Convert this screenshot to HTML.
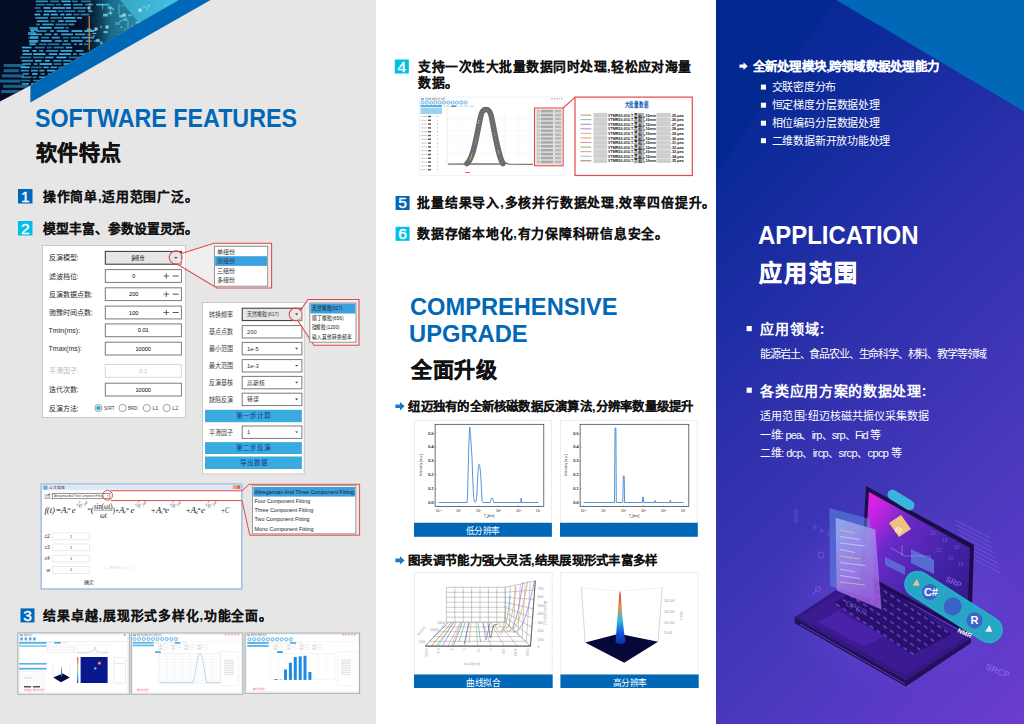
<!DOCTYPE html>
<html lang="zh-CN"><head><meta charset="utf-8">
<style>
html,body{margin:0;padding:0;width:1024px;height:724px;overflow:hidden;background:#fff}
body{font-family:"Liberation Sans",sans-serif}
svg{position:absolute;left:0;top:0;display:block}
svg text{white-space:pre}
</style></head><body>
<svg width="1024" height="724" viewBox="0 0 1024 724" font-family='"Liberation Sans",sans-serif'>
<defs>
<linearGradient id="rg" x1="716" y1="0" x2="1232" y2="516" gradientUnits="userSpaceOnUse">
 <stop offset="0" stop-color="#05288f"/><stop offset="0.19" stop-color="#0c2a9a"/><stop offset="0.45" stop-color="#2e30ac"/><stop offset="0.705" stop-color="#4838bc"/><stop offset="1" stop-color="#6c3cd0"/>
</linearGradient>
<linearGradient id="ph" x1="0" y1="0" x2="1" y2="0">
 <stop offset="0" stop-color="#04132a"/><stop offset="0.4" stop-color="#0a2c4c"/><stop offset="0.75" stop-color="#1b6f96"/><stop offset="1" stop-color="#3aa6c8"/>
</linearGradient>
<filter id="bl1"><feGaussianBlur stdDeviation="0.6"/></filter>
<filter id="bl2"><feGaussianBlur stdDeviation="1.2"/></filter>
</defs>
<rect x="0.00" y="0.00" width="376.00" height="724.00" fill="#e6e6e6"/>
<rect x="376.00" y="0.00" width="340.00" height="724.00" fill="#ffffff"/>
<rect x="716.00" y="0.00" width="308.00" height="724.00" fill="url(#rg)"/>
<polygon points="716,0 835,0 716,174" fill="#03288f"/>
<clipPath id="phc"><polygon points="0,0 179,0 30.4,85.5 0,101.5"/></clipPath>
<g clip-path="url(#phc)">
<rect x="0.00" y="0.00" width="180.00" height="102.00" fill="#050d24"/>
<linearGradient id="ph2" x1="0" y1="0" x2="1" y2="0"><stop offset="0" stop-color="#0a2a40" stop-opacity="0"/><stop offset="0.3" stop-color="#1a6a88"/><stop offset="1" stop-color="#40b8d8"/></linearGradient>
<polygon points="80,0 180,0 110,40 80,60" fill="url(#ph2)"/>
<polygon points="120,0 180,0 140,24" fill="#48c8e8" opacity="0.6"/>
<g filter="url(#bl1)">
<rect x="35.7" y="0.5" width="12.2" height="1.7" fill="#3cc0f0" opacity="0.76"/>
<rect x="50.2" y="0.5" width="8.9" height="1.7" fill="#3cc0f0" opacity="0.63"/>
<rect x="61.3" y="0.5" width="9.3" height="1.7" fill="#3cc0f0" opacity="0.91"/>
<rect x="71.9" y="0.5" width="6.0" height="1.7" fill="#3cc0f0" opacity="0.59"/>
<rect x="80.9" y="0.5" width="9.9" height="1.7" fill="#3cc0f0" opacity="0.57"/>
<rect x="36.0" y="3.8" width="9.2" height="1.7" fill="#3cc0f0" opacity="0.62"/>
<rect x="46.2" y="3.8" width="8.3" height="1.7" fill="#3cc0f0" opacity="0.58"/>
<rect x="55.9" y="3.8" width="5.4" height="1.7" fill="#3cc0f0" opacity="0.56"/>
<rect x="63.5" y="3.8" width="7.4" height="1.7" fill="#3cc0f0" opacity="0.93"/>
<rect x="73.2" y="3.8" width="9.4" height="1.7" fill="#3cc0f0" opacity="0.77"/>
<rect x="85.3" y="3.8" width="7.6" height="1.7" fill="#3cc0f0" opacity="0.68"/>
<rect x="96.3" y="3.8" width="13.0" height="1.7" fill="#3cc0f0" opacity="0.93"/>
<rect x="34.7" y="7.1" width="5.9" height="1.7" fill="#3cc0f0" opacity="0.58"/>
<rect x="43.5" y="7.1" width="7.0" height="1.7" fill="#3cc0f0" opacity="0.93"/>
<rect x="52.5" y="7.1" width="12.6" height="1.7" fill="#3cc0f0" opacity="0.93"/>
<rect x="66.0" y="7.1" width="5.1" height="1.7" fill="#3cc0f0" opacity="0.96"/>
<rect x="73.3" y="7.1" width="12.8" height="1.7" fill="#3cc0f0" opacity="0.73"/>
<rect x="36.3" y="10.4" width="5.7" height="1.7" fill="#3cc0f0" opacity="0.59"/>
<rect x="43.9" y="10.4" width="12.6" height="1.7" fill="#3cc0f0" opacity="0.89"/>
<rect x="57.8" y="10.4" width="5.5" height="1.7" fill="#3cc0f0" opacity="0.60"/>
<rect x="64.4" y="10.4" width="11.0" height="1.7" fill="#3cc0f0" opacity="0.63"/>
<rect x="77.8" y="10.4" width="7.5" height="1.7" fill="#3cc0f0" opacity="0.64"/>
<rect x="88.1" y="10.4" width="4.3" height="1.7" fill="#3cc0f0" opacity="0.84"/>
<rect x="34.6" y="13.7" width="5.7" height="1.7" fill="#3cc0f0" opacity="0.99"/>
<rect x="43.3" y="13.7" width="6.0" height="1.7" fill="#3cc0f0" opacity="0.95"/>
<rect x="50.9" y="13.7" width="6.9" height="1.7" fill="#3cc0f0" opacity="0.93"/>
<rect x="60.5" y="13.7" width="4.0" height="1.7" fill="#3cc0f0" opacity="1.00"/>
<rect x="66.0" y="13.7" width="5.6" height="1.7" fill="#3cc0f0" opacity="0.90"/>
<rect x="73.4" y="13.7" width="6.0" height="1.7" fill="#3cc0f0" opacity="0.58"/>
<rect x="80.6" y="13.7" width="8.8" height="1.7" fill="#3cc0f0" opacity="0.66"/>
<rect x="35.4" y="17.0" width="12.6" height="1.7" fill="#3cc0f0" opacity="0.77"/>
<rect x="50.4" y="17.0" width="11.7" height="1.7" fill="#3cc0f0" opacity="0.63"/>
<rect x="63.4" y="17.0" width="12.1" height="1.7" fill="#3cc0f0" opacity="0.92"/>
<rect x="77.1" y="17.0" width="4.9" height="1.7" fill="#3cc0f0" opacity="0.88"/>
<rect x="36.9" y="20.3" width="11.8" height="1.7" fill="#3cc0f0" opacity="0.82"/>
<rect x="50.7" y="20.3" width="4.0" height="1.7" fill="#3cc0f0" opacity="0.57"/>
<rect x="58.2" y="20.3" width="5.4" height="1.7" fill="#3cc0f0" opacity="0.87"/>
<rect x="65.2" y="20.3" width="11.2" height="1.7" fill="#3cc0f0" opacity="0.82"/>
<rect x="36.2" y="23.6" width="3.7" height="1.7" fill="#3cc0f0" opacity="0.65"/>
<rect x="42.2" y="23.6" width="11.5" height="1.7" fill="#3cc0f0" opacity="0.83"/>
<rect x="55.5" y="23.6" width="12.2" height="1.7" fill="#3cc0f0" opacity="0.64"/>
<rect x="68.7" y="23.6" width="5.7" height="1.7" fill="#3cc0f0" opacity="0.75"/>
<rect x="29.1" y="26.9" width="8.7" height="1.7" fill="#3cc0f0" opacity="0.61"/>
<rect x="39.7" y="26.9" width="11.9" height="1.7" fill="#3cc0f0" opacity="0.99"/>
<rect x="54.3" y="26.9" width="9.9" height="1.7" fill="#3cc0f0" opacity="0.81"/>
<rect x="65.5" y="26.9" width="3.4" height="1.7" fill="#3cc0f0" opacity="0.56"/>
<rect x="30.9" y="30.2" width="3.2" height="1.7" fill="#3cc0f0" opacity="0.84"/>
<rect x="36.3" y="30.2" width="10.3" height="1.7" fill="#3cc0f0" opacity="0.69"/>
<rect x="50.1" y="30.2" width="3.8" height="1.7" fill="#3cc0f0" opacity="0.80"/>
<rect x="56.7" y="30.2" width="12.0" height="1.7" fill="#3cc0f0" opacity="0.88"/>
<rect x="71.5" y="30.2" width="10.9" height="1.7" fill="#3cc0f0" opacity="0.96"/>
<rect x="84.3" y="30.2" width="9.9" height="1.7" fill="#3cc0f0" opacity="0.96"/>
<rect x="30.4" y="33.5" width="11.6" height="1.7" fill="#3cc0f0" opacity="0.81"/>
<rect x="44.6" y="33.5" width="6.8" height="1.7" fill="#3cc0f0" opacity="0.81"/>
<rect x="53.9" y="33.5" width="3.8" height="1.7" fill="#3cc0f0" opacity="0.84"/>
<rect x="61.2" y="33.5" width="11.8" height="1.7" fill="#3cc0f0" opacity="0.88"/>
<rect x="75.0" y="33.5" width="10.4" height="1.7" fill="#3cc0f0" opacity="0.81"/>
<rect x="28.3" y="36.8" width="10.5" height="1.7" fill="#3cc0f0" opacity="0.56"/>
<rect x="41.3" y="36.8" width="7.8" height="1.7" fill="#3cc0f0" opacity="0.65"/>
<rect x="51.8" y="36.8" width="8.0" height="1.7" fill="#3cc0f0" opacity="0.83"/>
<rect x="63.1" y="36.8" width="5.6" height="1.7" fill="#3cc0f0" opacity="0.56"/>
<rect x="70.4" y="36.8" width="9.8" height="1.7" fill="#3cc0f0" opacity="0.64"/>
<rect x="81.6" y="36.8" width="12.1" height="1.7" fill="#3cc0f0" opacity="0.85"/>
<rect x="29.0" y="40.1" width="9.7" height="1.7" fill="#3cc0f0" opacity="0.64"/>
<rect x="40.7" y="40.1" width="11.1" height="1.7" fill="#3cc0f0" opacity="0.96"/>
<rect x="55.0" y="40.1" width="6.8" height="1.7" fill="#3cc0f0" opacity="0.81"/>
<rect x="63.6" y="40.1" width="4.4" height="1.7" fill="#3cc0f0" opacity="0.77"/>
<rect x="71.1" y="40.1" width="11.5" height="1.7" fill="#3cc0f0" opacity="0.87"/>
<rect x="85.9" y="40.1" width="5.8" height="1.7" fill="#3cc0f0" opacity="0.63"/>
<rect x="93.8" y="40.1" width="5.8" height="1.7" fill="#3cc0f0" opacity="0.65"/>
<rect x="29.5" y="43.4" width="6.2" height="1.7" fill="#3cc0f0" opacity="0.93"/>
<rect x="39.1" y="43.4" width="7.5" height="1.7" fill="#3cc0f0" opacity="0.58"/>
<rect x="47.7" y="43.4" width="11.7" height="1.7" fill="#3cc0f0" opacity="0.57"/>
<rect x="62.2" y="43.4" width="8.7" height="1.7" fill="#3cc0f0" opacity="0.69"/>
<rect x="73.9" y="43.4" width="3.2" height="1.7" fill="#3cc0f0" opacity="0.61"/>
<rect x="79.2" y="43.4" width="3.2" height="1.7" fill="#3cc0f0" opacity="0.92"/>
<rect x="84.0" y="43.4" width="4.4" height="1.7" fill="#3cc0f0" opacity="0.57"/>
<rect x="21.9" y="46.7" width="9.6" height="1.7" fill="#3cc0f0" opacity="0.91"/>
<rect x="34.8" y="46.7" width="9.8" height="1.7" fill="#3cc0f0" opacity="0.64"/>
<rect x="46.9" y="46.7" width="4.8" height="1.7" fill="#3cc0f0" opacity="0.55"/>
<rect x="53.8" y="46.7" width="10.1" height="1.7" fill="#3cc0f0" opacity="0.63"/>
<rect x="65.7" y="46.7" width="6.5" height="1.7" fill="#3cc0f0" opacity="0.86"/>
<rect x="22.3" y="50.0" width="6.9" height="1.7" fill="#3cc0f0" opacity="0.91"/>
<rect x="32.5" y="50.0" width="3.9" height="1.7" fill="#3cc0f0" opacity="0.97"/>
<rect x="39.1" y="50.0" width="4.3" height="1.7" fill="#3cc0f0" opacity="0.75"/>
<rect x="46.0" y="50.0" width="12.1" height="1.7" fill="#3cc0f0" opacity="0.72"/>
<rect x="60.5" y="50.0" width="11.8" height="1.7" fill="#3cc0f0" opacity="0.91"/>
<rect x="75.7" y="50.0" width="7.6" height="1.7" fill="#3cc0f0" opacity="0.84"/>
<rect x="22.5" y="53.3" width="9.4" height="1.7" fill="#3cc0f0" opacity="0.87"/>
<rect x="33.4" y="53.3" width="12.0" height="1.7" fill="#3cc0f0" opacity="0.99"/>
<rect x="48.8" y="53.3" width="8.4" height="1.7" fill="#3cc0f0" opacity="0.91"/>
<rect x="59.0" y="53.3" width="12.1" height="1.7" fill="#3cc0f0" opacity="0.94"/>
<rect x="73.0" y="53.3" width="3.8" height="1.7" fill="#3cc0f0" opacity="0.75"/>
<rect x="79.2" y="53.3" width="10.7" height="1.7" fill="#3cc0f0" opacity="0.77"/>
<rect x="20.2" y="56.6" width="11.0" height="1.7" fill="#3cc0f0" opacity="0.63"/>
<rect x="33.0" y="56.6" width="10.9" height="1.7" fill="#3cc0f0" opacity="0.61"/>
<rect x="45.3" y="56.6" width="8.2" height="1.7" fill="#3cc0f0" opacity="0.88"/>
<rect x="56.5" y="56.6" width="9.9" height="1.7" fill="#3cc0f0" opacity="0.98"/>
<rect x="68.7" y="56.6" width="12.5" height="1.7" fill="#3cc0f0" opacity="0.59"/>
<rect x="82.7" y="56.6" width="8.3" height="1.7" fill="#3cc0f0" opacity="0.68"/>
<rect x="21.6" y="59.9" width="11.4" height="1.7" fill="#3cc0f0" opacity="0.80"/>
<rect x="34.8" y="59.9" width="6.8" height="1.7" fill="#3cc0f0" opacity="0.93"/>
<rect x="44.8" y="59.9" width="5.1" height="1.7" fill="#3cc0f0" opacity="0.93"/>
<rect x="53.4" y="59.9" width="8.2" height="1.7" fill="#3cc0f0" opacity="0.81"/>
<rect x="63.1" y="59.9" width="8.4" height="1.7" fill="#3cc0f0" opacity="0.78"/>
<rect x="74.0" y="59.9" width="3.3" height="1.7" fill="#3cc0f0" opacity="0.99"/>
<rect x="22.4" y="63.2" width="8.6" height="1.7" fill="#3cc0f0" opacity="0.77"/>
<rect x="33.8" y="63.2" width="3.7" height="1.7" fill="#3cc0f0" opacity="0.79"/>
<rect x="39.5" y="63.2" width="12.6" height="1.7" fill="#3cc0f0" opacity="0.97"/>
<rect x="53.7" y="63.2" width="7.7" height="1.7" fill="#3cc0f0" opacity="0.61"/>
<rect x="63.5" y="63.2" width="11.2" height="1.7" fill="#3cc0f0" opacity="0.96"/>
<rect x="20.6" y="66.5" width="9.2" height="1.7" fill="#3cc0f0" opacity="0.97"/>
<rect x="31.1" y="66.5" width="10.8" height="1.7" fill="#3cc0f0" opacity="0.56"/>
<rect x="43.4" y="66.5" width="5.3" height="1.7" fill="#3cc0f0" opacity="0.86"/>
<rect x="50.4" y="66.5" width="6.6" height="1.7" fill="#3cc0f0" opacity="0.83"/>
<rect x="58.2" y="66.5" width="10.3" height="1.7" fill="#3cc0f0" opacity="0.61"/>
<rect x="20.6" y="69.8" width="8.3" height="1.7" fill="#3cc0f0" opacity="0.75"/>
<rect x="30.8" y="69.8" width="7.1" height="1.7" fill="#3cc0f0" opacity="0.79"/>
<rect x="39.4" y="69.8" width="5.0" height="1.7" fill="#3cc0f0" opacity="0.83"/>
<rect x="47.0" y="69.8" width="8.3" height="1.7" fill="#3cc0f0" opacity="0.93"/>
<rect x="57.8" y="69.8" width="11.6" height="1.7" fill="#3cc0f0" opacity="0.65"/>
<rect x="22.7" y="73.1" width="6.2" height="1.7" fill="#3cc0f0" opacity="0.69"/>
<rect x="32.2" y="73.1" width="5.2" height="1.7" fill="#3cc0f0" opacity="1.00"/>
<rect x="40.6" y="73.1" width="4.3" height="1.7" fill="#3cc0f0" opacity="0.66"/>
<rect x="47.7" y="73.1" width="5.6" height="1.7" fill="#3cc0f0" opacity="0.59"/>
<rect x="56.4" y="73.1" width="7.2" height="1.7" fill="#3cc0f0" opacity="0.91"/>
<rect x="64.9" y="73.1" width="7.0" height="1.7" fill="#3cc0f0" opacity="0.86"/>
<rect x="73.0" y="73.1" width="5.0" height="1.7" fill="#3cc0f0" opacity="0.86"/>
<rect x="81.3" y="73.1" width="12.7" height="1.7" fill="#3cc0f0" opacity="0.60"/>
<rect x="21.5" y="76.4" width="9.9" height="1.7" fill="#3cc0f0" opacity="0.64"/>
<rect x="32.5" y="76.4" width="4.1" height="1.7" fill="#3cc0f0" opacity="0.57"/>
<rect x="39.0" y="76.4" width="8.1" height="1.7" fill="#3cc0f0" opacity="0.81"/>
<rect x="48.5" y="76.4" width="4.8" height="1.7" fill="#3cc0f0" opacity="0.64"/>
<rect x="56.4" y="76.4" width="12.9" height="1.7" fill="#3cc0f0" opacity="0.97"/>
<rect x="70.6" y="76.4" width="3.6" height="1.7" fill="#3cc0f0" opacity="0.98"/>
<rect x="76.4" y="76.4" width="10.6" height="1.7" fill="#3cc0f0" opacity="0.70"/>
<rect x="21.3" y="79.7" width="9.0" height="1.7" fill="#3cc0f0" opacity="0.56"/>
<rect x="33.1" y="79.7" width="11.4" height="1.7" fill="#3cc0f0" opacity="0.63"/>
<rect x="46.6" y="79.7" width="10.4" height="1.7" fill="#3cc0f0" opacity="0.73"/>
<rect x="58.5" y="79.7" width="4.7" height="1.7" fill="#3cc0f0" opacity="0.78"/>
<rect x="64.2" y="79.7" width="11.9" height="1.7" fill="#3cc0f0" opacity="0.91"/>
<rect x="21.9" y="83.0" width="7.0" height="1.7" fill="#3cc0f0" opacity="0.82"/>
<rect x="31.2" y="83.0" width="12.8" height="1.7" fill="#3cc0f0" opacity="0.91"/>
<rect x="45.7" y="83.0" width="12.1" height="1.7" fill="#3cc0f0" opacity="0.88"/>
<rect x="60.7" y="83.0" width="11.1" height="1.7" fill="#3cc0f0" opacity="0.73"/>
<rect x="75.1" y="83.0" width="11.8" height="1.7" fill="#3cc0f0" opacity="0.86"/>
<rect x="3.8" y="64.0" width="21.3" height="3" fill="#2a9ad0" opacity="0.6"/>
<rect x="3.6" y="69.2" width="15.3" height="3" fill="#2a9ad0" opacity="0.6"/>
<rect x="1.7" y="74.4" width="22.4" height="3" fill="#2a9ad0" opacity="0.6"/>
<rect x="0.1" y="79.6" width="20.4" height="3" fill="#2a9ad0" opacity="0.6"/>
<rect x="3.2" y="84.8" width="25.2" height="3" fill="#2a9ad0" opacity="0.6"/>
<rect x="1.2" y="90.0" width="31.0" height="3" fill="#2a9ad0" opacity="0.6"/>
<rect x="30.0" y="28.0" width="8.0" height="3" fill="#3ab8e8" opacity="0.7"/>
<rect x="28.0" y="32.0" width="8.0" height="3" fill="#3ab8e8" opacity="0.7"/>
<rect x="30.0" y="36.0" width="8.0" height="3" fill="#3ab8e8" opacity="0.7"/>
<rect x="29.4" y="40.0" width="8.0" height="3" fill="#3ab8e8" opacity="0.7"/>
<rect x="135.6" y="21.4" width="5.0" height="2.3" fill="#7adcf0" opacity="0.65"/>
<rect x="87.2" y="33.8" width="4.0" height="1.5" fill="#7adcf0" opacity="0.50"/>
<rect x="89.8" y="10.7" width="2.5" height="1.2" fill="#7adcf0" opacity="0.43"/>
<rect x="92.2" y="32.9" width="4.0" height="1.1" fill="#7adcf0" opacity="0.77"/>
<rect x="100.2" y="25.9" width="1.7" height="2.0" fill="#7adcf0" opacity="0.61"/>
<rect x="90.6" y="52.0" width="2.7" height="2.1" fill="#7adcf0" opacity="0.60"/>
<rect x="119.7" y="15.7" width="3.6" height="2.1" fill="#7adcf0" opacity="0.44"/>
<rect x="153.1" y="16.3" width="1.1" height="1.5" fill="#7adcf0" opacity="0.32"/>
<rect x="99.9" y="41.5" width="2.6" height="2.8" fill="#7adcf0" opacity="0.67"/>
<rect x="174.7" y="4.0" width="4.6" height="1.9" fill="#7adcf0" opacity="0.54"/>
<rect x="142.3" y="6.3" width="3.5" height="1.9" fill="#7adcf0" opacity="0.40"/>
<rect x="89.9" y="29.0" width="1.5" height="1.9" fill="#7adcf0" opacity="0.63"/>
<rect x="128.3" y="14.4" width="3.3" height="1.8" fill="#7adcf0" opacity="0.69"/>
<rect x="107.6" y="6.3" width="4.6" height="2.6" fill="#7adcf0" opacity="0.61"/>
<rect x="119.1" y="14.9" width="3.7" height="2.1" fill="#7adcf0" opacity="0.60"/>
<rect x="103.0" y="13.7" width="4.9" height="2.8" fill="#7adcf0" opacity="0.74"/>
<rect x="88.8" y="3.3" width="2.1" height="1.9" fill="#7adcf0" opacity="0.61"/>
<rect x="94.7" y="29.8" width="1.3" height="1.2" fill="#7adcf0" opacity="0.64"/>
<rect x="120.5" y="26.3" width="1.8" height="1.7" fill="#7adcf0" opacity="0.67"/>
<rect x="164.7" y="4.1" width="1.5" height="2.6" fill="#7adcf0" opacity="0.61"/>
<rect x="158.0" y="11.7" width="2.7" height="1.5" fill="#7adcf0" opacity="0.70"/>
<rect x="120.1" y="5.3" width="4.5" height="1.2" fill="#7adcf0" opacity="0.34"/>
<rect x="150.1" y="16.4" width="4.1" height="1.2" fill="#7adcf0" opacity="0.41"/>
<rect x="147.9" y="4.5" width="2.2" height="2.4" fill="#7adcf0" opacity="0.65"/>
<rect x="111.9" y="7.9" width="2.4" height="2.5" fill="#7adcf0" opacity="0.48"/>
<rect x="96.2" y="39.0" width="3.3" height="2.8" fill="#7adcf0" opacity="0.77"/>
<rect x="115.2" y="22.0" width="4.7" height="2.8" fill="#7adcf0" opacity="0.42"/>
<rect x="119.4" y="20.1" width="2.5" height="1.8" fill="#7adcf0" opacity="0.49"/>
<rect x="103.5" y="31.0" width="4.2" height="2.1" fill="#7adcf0" opacity="0.72"/>
<rect x="138.5" y="9.7" width="4.0" height="2.8" fill="#7adcf0" opacity="0.44"/>
<rect x="87.1" y="28.4" width="3.2" height="2.1" fill="#7adcf0" opacity="0.78"/>
<rect x="91.1" y="30.1" width="4.2" height="1.2" fill="#7adcf0" opacity="0.34"/>
<rect x="93.0" y="34.9" width="1.6" height="2.5" fill="#7adcf0" opacity="0.62"/>
<rect x="108.3" y="12.1" width="4.1" height="2.0" fill="#7adcf0" opacity="0.68"/>
<rect x="122.5" y="18.6" width="4.9" height="2.3" fill="#7adcf0" opacity="0.55"/>
<rect x="124.6" y="28.9" width="1" height="10.7" fill="#a0e8f8" opacity="0.5"/>
<rect x="151.2" y="28.2" width="1" height="12.3" fill="#a0e8f8" opacity="0.5"/>
<rect x="153.3" y="33.5" width="1" height="10.4" fill="#a0e8f8" opacity="0.5"/>
<rect x="131.4" y="24.9" width="1" height="12.0" fill="#a0e8f8" opacity="0.5"/>
<rect x="125.3" y="14.7" width="1" height="5.5" fill="#a0e8f8" opacity="0.5"/>
<rect x="144.5" y="34.7" width="1" height="7.8" fill="#a0e8f8" opacity="0.5"/>
<rect x="110.1" y="7.2" width="1" height="8.2" fill="#a0e8f8" opacity="0.5"/>
<rect x="117.5" y="33.9" width="1" height="4.6" fill="#a0e8f8" opacity="0.5"/>
<rect x="118.5" y="4.0" width="1" height="10.5" fill="#a0e8f8" opacity="0.5"/>
<rect x="146.6" y="6.3" width="1" height="4.6" fill="#a0e8f8" opacity="0.5"/>
<rect x="127.5" y="20.4" width="1" height="13.1" fill="#a0e8f8" opacity="0.5"/>
<rect x="102.2" y="3.8" width="1" height="5.8" fill="#a0e8f8" opacity="0.5"/>
<rect x="88.5" y="16" width="1.5" height="34" fill="#d08a40" opacity="0.8"/>
<circle cx="89" cy="8" r="1.8" fill="#e0f0ff" opacity="0.7"/>
<circle cx="96" cy="29" r="1.8" fill="#e0f0ff" opacity="0.7"/>
<circle cx="107" cy="27" r="1.8" fill="#e0f0ff" opacity="0.7"/>
<circle cx="124" cy="15" r="1.8" fill="#e0f0ff" opacity="0.7"/>
<circle cx="140" cy="10" r="1.8" fill="#e0f0ff" opacity="0.7"/>
</g></g>
<polygon points="30.40,85.50 179.00,0.00 210.60,0.00 30.40,102.40" fill="#0068b7"/>
<text x="35" y="126.7" font-size="25.5" font-weight="bold" fill="#0068b7" textLength="262" lengthAdjust="spacingAndGlyphs">SOFTWARE FEATURES</text>
<text x="36.00" y="159.56" font-size="21" fill="#111" font-weight="bold" stroke="#111" stroke-width="0.45" textLength="85.00" lengthAdjust="spacing">软件特点</text>
<rect x="18.00" y="189.00" width="14.50" height="14.50" fill="#0068b7"/>
<text x="25.25" y="201.60" font-size="15.5" font-weight="normal" stroke="#fff" stroke-width="0.4" fill="#fff" text-anchor="middle">1</text>
<text x="43.00" y="201.41" font-size="12.8" fill="#111" font-weight="bold" stroke="#111" stroke-width="0.05" textLength="154.60" lengthAdjust="spacing">操作简单,适用范围广泛。</text>
<rect x="18.00" y="221.00" width="14.50" height="14.50" fill="#00bfe7"/>
<text x="25.25" y="233.60" font-size="15.5" font-weight="normal" stroke="#fff" stroke-width="0.4" fill="#fff" text-anchor="middle">2</text>
<text x="43.00" y="233.21" font-size="12.8" fill="#111" font-weight="bold" stroke="#111" stroke-width="0.05" textLength="155.40" lengthAdjust="spacing">模型丰富、参数设置灵活。</text>
<rect x="42.50" y="245.50" width="143.00" height="172.00" fill="#fff" stroke="#c9c9c9" stroke-width="1"/>
<text x="48.60" y="260.32" font-size="7" fill="#2a2a2a">反演模型:</text>
<rect x="105.30" y="251.40" width="76.10" height="12.80" fill="#e6e6e6" stroke="#333" stroke-width="1"/>
<path d="M174.2 257.0 h3.4 l-1.7 1.8z" fill="#333"/>
<text x="137.70" y="259.82" font-size="5.6" fill="#000" text-anchor="middle" textLength="14.00" lengthAdjust="spacingAndGlyphs">多组份</text>
<text x="48.60" y="278.52" font-size="7" fill="#2a2a2a">滤波档位:</text>
<rect x="105.30" y="269.60" width="76.10" height="12.80" fill="#fff" stroke="#7a7a7a" stroke-width="1"/>
<text x="133.70" y="278.02" font-size="5.6" fill="#000" text-anchor="middle">0</text>
<line x1="163.60" y1="276.00" x2="169.00" y2="276.00" stroke="#555" stroke-width="0.9" />
<line x1="166.30" y1="273.30" x2="166.30" y2="278.70" stroke="#555" stroke-width="0.9" />
<line x1="172.60" y1="276.00" x2="178.60" y2="276.00" stroke="#555" stroke-width="1.0" />
<text x="48.60" y="296.72" font-size="7" fill="#2a2a2a">反演数据点数:</text>
<rect x="105.30" y="287.80" width="76.10" height="12.80" fill="#fff" stroke="#7a7a7a" stroke-width="1"/>
<text x="133.70" y="296.22" font-size="5.6" fill="#000" text-anchor="middle">200</text>
<line x1="163.60" y1="294.20" x2="169.00" y2="294.20" stroke="#555" stroke-width="0.9" />
<line x1="166.30" y1="291.50" x2="166.30" y2="296.90" stroke="#555" stroke-width="0.9" />
<line x1="172.60" y1="294.20" x2="178.60" y2="294.20" stroke="#555" stroke-width="1.0" />
<text x="48.60" y="315.02" font-size="7" fill="#2a2a2a">弛豫时间点数:</text>
<rect x="105.30" y="306.10" width="76.10" height="12.80" fill="#fff" stroke="#7a7a7a" stroke-width="1"/>
<text x="133.70" y="314.52" font-size="5.6" fill="#000" text-anchor="middle">100</text>
<line x1="163.60" y1="312.50" x2="169.00" y2="312.50" stroke="#555" stroke-width="0.9" />
<line x1="166.30" y1="309.80" x2="166.30" y2="315.20" stroke="#555" stroke-width="0.9" />
<line x1="172.60" y1="312.50" x2="178.60" y2="312.50" stroke="#555" stroke-width="1.0" />
<text x="48.60" y="332.82" font-size="7" fill="#2a2a2a">Tmin(ms):</text>
<rect x="105.30" y="323.90" width="76.10" height="12.80" fill="#fff" stroke="#7a7a7a" stroke-width="1"/>
<text x="143.20" y="332.32" font-size="5.6" fill="#000" text-anchor="middle">0.01</text>
<text x="48.60" y="351.12" font-size="7" fill="#2a2a2a">Tmax(ms):</text>
<rect x="105.30" y="342.20" width="76.10" height="12.80" fill="#fff" stroke="#7a7a7a" stroke-width="1"/>
<text x="143.20" y="350.62" font-size="5.6" fill="#000" text-anchor="middle">10000</text>
<text x="48.60" y="373.42" font-size="7" fill="#bbb">平滑因子:</text>
<rect x="105.30" y="364.50" width="76.10" height="12.80" fill="#fff" stroke="#d8d8d8" stroke-width="1"/>
<text x="143.20" y="372.92" font-size="5.6" fill="#bbb" text-anchor="middle">0.1</text>
<text x="48.60" y="392.12" font-size="7" fill="#2a2a2a">迭代次数:</text>
<rect x="105.30" y="383.20" width="76.10" height="12.80" fill="#fff" stroke="#7a7a7a" stroke-width="1"/>
<text x="143.20" y="391.62" font-size="5.6" fill="#000" text-anchor="middle">10000</text>
<text x="48.60" y="410.52" font-size="7" fill="#2a2a2a">反演方法:</text>
<circle cx="98.40" cy="408.00" r="3.60" fill="#fff" stroke="#777" stroke-width="0.7"/>
<circle cx="98.40" cy="408.00" r="2.30" fill="#3aa0e0"/>
<text x="104.00" y="409.87" font-size="5.2" fill="#444" textLength="10.50" lengthAdjust="spacingAndGlyphs">SIRT</text>
<circle cx="122.50" cy="408.00" r="3.60" fill="#fff" stroke="#777" stroke-width="0.7"/>
<text x="128.10" y="409.87" font-size="5.2" fill="#444" textLength="9.50" lengthAdjust="spacingAndGlyphs">BRD</text>
<circle cx="146.80" cy="408.00" r="3.60" fill="#fff" stroke="#777" stroke-width="0.7"/>
<text x="152.40" y="409.87" font-size="5.2" fill="#444" textLength="5.80" lengthAdjust="spacingAndGlyphs">L1</text>
<circle cx="166.70" cy="408.00" r="3.60" fill="#fff" stroke="#777" stroke-width="0.7"/>
<text x="172.30" y="409.87" font-size="5.2" fill="#444" textLength="5.80" lengthAdjust="spacingAndGlyphs">L2</text>
<circle cx="175.90" cy="257.50" r="6.60" fill="none" stroke="#e8474a" stroke-width="1.1"/>
<polyline points="181.50,253.40 214.00,243.20 271.60,243.20 271.60,288.00 217.00,288.00 176.50,263.80" fill="#ffffff" stroke="#e8474a" stroke-width="1.1" fill-opacity="0.35"/>
<rect x="214.50" y="246.30" width="53.20" height="39.90" fill="#fff" stroke="#8a8a8a" stroke-width="0.9"/>
<rect x="215.20" y="256.20" width="51.80" height="9.70" fill="#3aa0e0"/>
<text x="217.00" y="254.16" font-size="6" fill="#333">单组份</text>
<text x="217.00" y="263.16" font-size="6" fill="#333">双组份</text>
<text x="217.00" y="272.86" font-size="6" fill="#333">三组份</text>
<text x="217.00" y="282.16" font-size="6" fill="#333">多组份</text>
<rect x="202.50" y="302.50" width="101.80" height="171.50" fill="#fff" stroke="#c9c9c9" stroke-width="1"/>
<text x="208.70" y="316.85" font-size="6.8" fill="#444" textLength="25.00" lengthAdjust="spacingAndGlyphs">转换频率</text>
<rect x="242.20" y="308.20" width="59.70" height="12.40" fill="#e6e6e6" stroke="#333" stroke-width="1"/>
<text x="247.00" y="316.49" font-size="5.8" fill="#333" textLength="32.00" lengthAdjust="spacingAndGlyphs">天然橡胶(617)</text>
<path d="M295.1 313.6 h3 l-1.5 1.6z" fill="#333"/>
<text x="208.70" y="334.25" font-size="6.8" fill="#444" textLength="25.00" lengthAdjust="spacingAndGlyphs">基点点数</text>
<rect x="242.20" y="325.60" width="59.70" height="12.40" fill="#fff" stroke="#7a7a7a" stroke-width="1"/>
<text x="247.00" y="333.89" font-size="5.8" fill="#333">200</text>
<text x="208.70" y="351.05" font-size="6.8" fill="#444" textLength="25.00" lengthAdjust="spacingAndGlyphs">最小范围</text>
<rect x="242.20" y="342.40" width="59.70" height="12.40" fill="#fff" stroke="#7a7a7a" stroke-width="1"/>
<text x="247.00" y="350.69" font-size="5.8" fill="#333">1e-5</text>
<path d="M295.1 347.8 h3 l-1.5 1.6z" fill="#333"/>
<text x="208.70" y="368.25" font-size="6.8" fill="#444" textLength="25.00" lengthAdjust="spacingAndGlyphs">最大范围</text>
<rect x="242.20" y="359.60" width="59.70" height="12.40" fill="#fff" stroke="#7a7a7a" stroke-width="1"/>
<text x="247.00" y="367.89" font-size="5.8" fill="#333">1e-3</text>
<path d="M295.1 365.0 h3 l-1.5 1.6z" fill="#333"/>
<text x="208.70" y="385.05" font-size="6.8" fill="#444" textLength="25.00" lengthAdjust="spacingAndGlyphs">反演基核</text>
<rect x="242.20" y="376.40" width="59.70" height="12.40" fill="#fff" stroke="#7a7a7a" stroke-width="1"/>
<text x="247.00" y="384.69" font-size="5.8" fill="#333">高斯核</text>
<path d="M295.1 381.8 h3 l-1.5 1.6z" fill="#333"/>
<text x="208.70" y="401.85" font-size="6.8" fill="#444" textLength="25.00" lengthAdjust="spacingAndGlyphs">缺陷反演</text>
<rect x="242.20" y="393.20" width="59.70" height="12.40" fill="#fff" stroke="#7a7a7a" stroke-width="1"/>
<text x="247.00" y="401.49" font-size="5.8" fill="#333">错误</text>
<path d="M295.1 398.6 h3 l-1.5 1.6z" fill="#333"/>
<text x="208.70" y="434.65" font-size="6.8" fill="#444" textLength="25.00" lengthAdjust="spacingAndGlyphs">平滑因子</text>
<rect x="242.20" y="426.00" width="59.70" height="12.40" fill="#fff" stroke="#7a7a7a" stroke-width="1"/>
<text x="247.00" y="434.29" font-size="5.8" fill="#333">1</text>
<path d="M295.1 431.4 h3 l-1.5 1.6z" fill="#333"/>
<rect x="205.00" y="409.80" width="96.90" height="12.40" fill="#3aabe0"/>
<text x="253.50" y="418.38" font-size="6.6" fill="#163a8c" text-anchor="middle">第一步计算</text>
<rect x="205.00" y="442.10" width="96.90" height="11.90" fill="#3aabe0"/>
<text x="253.50" y="450.43" font-size="6.6" fill="#163a8c" text-anchor="middle">第二步反演</text>
<rect x="205.00" y="456.50" width="96.90" height="12.50" fill="#3aabe0"/>
<text x="253.50" y="465.13" font-size="6.6" fill="#163a8c" text-anchor="middle">导出数据</text>
<circle cx="295.60" cy="314.40" r="6.40" fill="none" stroke="#e8474a" stroke-width="1.1"/>
<polyline points="300.50,310.20 308.00,299.50 359.00,299.50 359.00,345.20 314.00,345.20 297.50,320.30" fill="#ffffff" stroke="#e8474a" stroke-width="1.1" fill-opacity="0.35"/>
<rect x="309.80" y="303.00" width="46.20" height="39.20" fill="#fff" stroke="#8a8a8a" stroke-width="0.9"/>
<rect x="310.40" y="303.60" width="45.00" height="9.90" fill="#3aa0e0"/>
<text x="311.50" y="310.42" font-size="5.6" fill="#222" textLength="31.00" lengthAdjust="spacingAndGlyphs">天然橡胶(617)</text>
<text x="311.50" y="320.12" font-size="5.6" fill="#222" textLength="32.00" lengthAdjust="spacingAndGlyphs">顺丁橡胶(656)</text>
<text x="311.50" y="329.32" font-size="5.6" fill="#222" textLength="28.00" lengthAdjust="spacingAndGlyphs">硅橡胶(1200)</text>
<text x="311.50" y="338.52" font-size="5.6" fill="#222" textLength="40.00" lengthAdjust="spacingAndGlyphs">输入其他转换频率</text>
<rect x="41.20" y="484.00" width="200.60" height="105.00" fill="#fff" stroke="#a9c1de" stroke-width="1.6"/>
<rect x="42.00" y="484.80" width="199.00" height="5.50" fill="#dfe9f6"/>
<rect x="43.50" y="485.60" width="4.00" height="4.00" fill="#6aa8d8"/>
<text x="49.00" y="488.90" font-size="3.6" fill="#333">公式编辑</text>
<rect x="232.80" y="485.30" width="3.70" height="3.60" fill="#e0a080"/>
<rect x="236.60" y="485.30" width="3.70" height="3.60" fill="#d86a50"/>
<text x="43.80" y="498.16" font-size="6" fill="#333" textLength="7.00" lengthAdjust="spacingAndGlyphs">公式</text>
<rect x="52.20" y="493.30" width="57.70" height="5.40" fill="#fff" stroke="#666" stroke-width="0.7"/>
<text x="54.00" y="497.30" font-size="3.6" fill="#444" textLength="49.00" lengthAdjust="spacingAndGlyphs">Abregamian And Three Component Fitting</text>
<path d="M106.8 495.4 h1.6 l-0.8 1z" fill="#333"/>
<circle cx="107.60" cy="495.30" r="4.90" fill="none" stroke="#e8474a" stroke-width="1.0"/>
<polyline points="110.80,490.80 242.00,490.80 249.10,484.30 359.60,484.30 359.60,535.20 249.80,535.20 242.00,500.60 111.00,500.60" fill="none" stroke="#e8474a" stroke-width="1.0"/>
<g font-family='"Liberation Serif",serif' font-style="italic" fill="#222">
<text x="44.40" y="512.60" font-size="9.2" textLength="10.60" lengthAdjust="spacingAndGlyphs">f(t)</text>
<text x="56.00" y="512.60" font-size="9" font-style="normal">=</text>
<text x="61.00" y="512.60" font-size="9.2">A</text>
<text x="66.40" y="514.20" font-size="3.6">1</text>
<text x="67.30" y="511.60" font-size="7" font-style="normal">*</text>
<text x="71.70" y="512.60" font-size="9.2">e</text>
<text x="76.00" y="505.60" font-size="3.4" font-style="normal">-(</text>
<text x="79.20" y="503.40" font-size="3.4">t</text>
<line x1="78.80" y1="504.30" x2="83.60" y2="504.30" stroke="#555" stroke-width="0.35" />
<text x="78.60" y="507.60" font-size="3.2">T1</text>
<text x="84.20" y="505.60" font-size="3.4" font-style="normal">)</text>
<text x="85.60" y="503.50" font-size="3.2">β</text>
<text x="119.00" y="512.60" font-size="9.2">A</text>
<text x="124.40" y="514.20" font-size="3.6">2</text>
<text x="125.80" y="511.60" font-size="7" font-style="normal">*</text>
<text x="130.50" y="512.60" font-size="9.2">e</text>
<text x="134.70" y="505.60" font-size="3.4" font-style="normal">-(</text>
<text x="137.90" y="503.40" font-size="3.4">t</text>
<line x1="137.50" y1="504.30" x2="142.30" y2="504.30" stroke="#555" stroke-width="0.35" />
<text x="137.30" y="507.60" font-size="3.2">T1</text>
<text x="142.90" y="505.60" font-size="3.4" font-style="normal">)</text>
<text x="144.30" y="503.50" font-size="3.2">β</text>
<text x="155.70" y="512.60" font-size="9.2">A</text>
<text x="161.10" y="514.20" font-size="3.6">3</text>
<text x="162.50" y="511.60" font-size="7" font-style="normal">*</text>
<text x="165.00" y="512.60" font-size="9.2">e</text>
<text x="169.40" y="505.60" font-size="3.4" font-style="normal">-(</text>
<text x="172.60" y="503.40" font-size="3.4">t</text>
<line x1="172.20" y1="504.30" x2="177.00" y2="504.30" stroke="#555" stroke-width="0.35" />
<text x="172.00" y="507.60" font-size="3.2">T1</text>
<text x="177.60" y="505.60" font-size="3.4" font-style="normal">)</text>
<text x="179.00" y="503.50" font-size="3.2">β</text>
<text x="190.40" y="512.60" font-size="9.2">A</text>
<text x="195.80" y="514.20" font-size="3.6">4</text>
<text x="197.20" y="511.60" font-size="7" font-style="normal">*</text>
<text x="200.90" y="512.60" font-size="9.2">e</text>
<text x="205.00" y="505.60" font-size="3.4" font-style="normal">-(</text>
<text x="208.20" y="503.40" font-size="3.4">t</text>
<line x1="207.80" y1="504.30" x2="212.60" y2="504.30" stroke="#555" stroke-width="0.35" />
<text x="207.60" y="507.60" font-size="3.2">T1</text>
<text x="213.20" y="505.60" font-size="3.4" font-style="normal">)</text>
<text x="214.60" y="503.50" font-size="3.2">β</text>
<text x="87.20" y="511.60" font-size="7" font-style="normal">*</text>
<text x="90.80" y="512.60" font-size="9" font-style="normal">(</text>
<text x="94.00" y="508.60" font-size="7.2" font-style="normal" textLength="18.50" lengthAdjust="spacingAndGlyphs">sin(ωt)</text>
<line x1="93.60" y1="510.20" x2="112.60" y2="510.20" stroke="#333" stroke-width="0.45" />
<text x="100.00" y="517.60" font-size="7.2" textLength="6.60" lengthAdjust="spacingAndGlyphs">ωt</text>
<text x="112.60" y="512.60" font-size="9" font-style="normal" textLength="6.50" lengthAdjust="spacingAndGlyphs">)+</text>
<text x="151.00" y="512.60" font-size="8" font-style="normal">+</text>
<text x="186.00" y="512.60" font-size="8" font-style="normal">+</text>
<text x="220.80" y="512.60" font-size="9" textLength="8.60" lengthAdjust="spacingAndGlyphs">+C</text>
</g>
<text x="44.50" y="538.20" font-size="5" fill="#333">c2</text>
<rect x="52.80" y="533.00" width="36.80" height="6.80" fill="#fff" stroke="#dcdcdc" stroke-width="0.6"/>
<text x="71.20" y="537.84" font-size="4" fill="#444" text-anchor="middle">1</text>
<text x="44.50" y="549.20" font-size="5" fill="#333">c3</text>
<rect x="52.80" y="544.00" width="36.80" height="6.80" fill="#fff" stroke="#dcdcdc" stroke-width="0.6"/>
<text x="71.20" y="548.84" font-size="4" fill="#444" text-anchor="middle">1</text>
<text x="44.50" y="560.40" font-size="5" fill="#333">c4</text>
<rect x="52.80" y="555.20" width="36.80" height="6.80" fill="#fff" stroke="#dcdcdc" stroke-width="0.6"/>
<text x="71.20" y="560.04" font-size="4" fill="#444" text-anchor="middle">1</text>
<text x="46.50" y="571.80" font-size="5" fill="#333">w</text>
<rect x="52.80" y="566.60" width="36.80" height="6.80" fill="#fff" stroke="#dcdcdc" stroke-width="0.6"/>
<text x="71.20" y="571.44" font-size="4" fill="#444" text-anchor="middle">1</text>
<text x="88.50" y="583.70" font-size="5" fill="#333" text-anchor="middle">确定</text>
<text x="102.00" y="568.72" font-size="3.4" fill="#ddd">c1 + 单位时间 c / c / c</text>
<rect x="252.60" y="485.70" width="103.20" height="48.10" fill="#fff" stroke="#8a8a8a" stroke-width="0.8"/>
<rect x="253.30" y="487.00" width="101.80" height="9.60" fill="#3aa0e0"/>
<text x="254.60" y="493.93" font-size="6.2" fill="#1a1a1a" textLength="99.50" lengthAdjust="spacingAndGlyphs">Abregamian And Three Component Fitting</text>
<text x="254.60" y="503.23" font-size="6.2" fill="#1a1a1a" textLength="55.50" lengthAdjust="spacingAndGlyphs">Four Component Fitting</text>
<text x="254.60" y="512.33" font-size="6.2" fill="#1a1a1a" textLength="58.50" lengthAdjust="spacingAndGlyphs">Three Component Fitting</text>
<text x="254.60" y="521.23" font-size="6.2" fill="#1a1a1a" textLength="55.00" lengthAdjust="spacingAndGlyphs">Two Component Fitting</text>
<text x="254.60" y="530.53" font-size="6.2" fill="#1a1a1a" textLength="59.00" lengthAdjust="spacingAndGlyphs">Mono Component Fitting</text>
<rect x="20.50" y="608.40" width="14.00" height="14.00" fill="#0068b7"/>
<text x="27.50" y="620.50" font-size="15.5" font-weight="normal" stroke="#fff" stroke-width="0.4" fill="#fff" text-anchor="middle">3</text>
<text x="43.40" y="619.91" font-size="12.8" fill="#111" font-weight="bold" stroke="#111" stroke-width="0.05" textLength="228.60" lengthAdjust="spacing">结果卓越,展现形式多样化,功能全面。</text>
<rect x="17.90" y="632.90" width="111.40" height="61.30" fill="#fff" stroke="#a8a8a8" stroke-width="1"/>
<rect x="19.40" y="634.40" width="108.40" height="58.30" fill="none" stroke="#dbe9f5" stroke-width="0.5"/>
<line x1="19.90" y1="641.40" x2="127.30" y2="641.40" stroke="#e2eef8" stroke-width="0.5" />
<rect x="20.00" y="634.30" width="3.00" height="1.70" fill="#6ab0e0"/>
<text x="24.00" y="635.85" font-size="1.8" fill="#666">数据处理</text>
<circle cx="124.50" cy="634.80" r="0.90" fill="#f07070"/>
<rect x="20.30" y="637.40" width="2.50" height="3.00" fill="#5aa8dc"/>
<rect x="24.60" y="637.40" width="2.50" height="3.00" fill="#5aa8dc"/>
<rect x="28.90" y="637.40" width="2.50" height="3.00" fill="#5aa8dc"/>
<rect x="33.20" y="637.40" width="2.50" height="3.00" fill="#5aa8dc"/>
<line x1="19.00" y1="641.50" x2="128.00" y2="641.50" stroke="#d0e4f2" stroke-width="0.4" />
<rect x="19.10" y="642.00" width="27.50" height="1.80" fill="#56b4e6"/>
<rect x="19.10" y="645.30" width="27.50" height="1.50" fill="#7cc4ec"/>
<rect x="19.10" y="663.00" width="27.50" height="1.60" fill="#56b4e6"/>
<rect x="19.10" y="667.80" width="27.50" height="1.80" fill="#56b4e6"/>
<line x1="19.50" y1="671.50" x2="46.00" y2="671.50" stroke="#e8e8e8" stroke-width="0.4" />
<line x1="19.50" y1="673.80" x2="46.00" y2="673.80" stroke="#e8e8e8" stroke-width="0.4" />
<line x1="19.50" y1="676.10" x2="46.00" y2="676.10" stroke="#e8e8e8" stroke-width="0.4" />
<line x1="19.50" y1="678.40" x2="46.00" y2="678.40" stroke="#e8e8e8" stroke-width="0.4" />
<line x1="19.50" y1="680.70" x2="46.00" y2="680.70" stroke="#e8e8e8" stroke-width="0.4" />
<line x1="19.50" y1="683.00" x2="46.00" y2="683.00" stroke="#e8e8e8" stroke-width="0.4" />
<line x1="19.50" y1="685.30" x2="46.00" y2="685.30" stroke="#e8e8e8" stroke-width="0.4" />
<line x1="19.50" y1="687.60" x2="46.00" y2="687.60" stroke="#e8e8e8" stroke-width="0.4" />
<rect x="24.00" y="677.00" width="8.00" height="2.00" fill="#e8e8e8"/>
<rect x="33.00" y="686.00" width="7.00" height="1.50" fill="#555"/>
<rect x="24.00" y="686.00" width="7.00" height="1.50" fill="#555"/>
<rect x="47.80" y="642.00" width="5.00" height="1.60" fill="#eee"/>
<rect x="54.30" y="642.00" width="6.50" height="1.60" fill="#4aa0dc"/>
<rect x="62.00" y="642.00" width="5.00" height="1.60" fill="#eee"/>
<rect x="47.80" y="646.00" width="27.00" height="6.60" fill="#fff" stroke="#ddd" stroke-width="0.4"/>
<line x1="48.00" y1="647.60" x2="74.50" y2="647.60" stroke="#e6e6e6" stroke-width="0.4" />
<line x1="48.00" y1="649.20" x2="74.50" y2="649.20" stroke="#e6e6e6" stroke-width="0.4" />
<line x1="48.00" y1="650.80" x2="74.50" y2="650.80" stroke="#e6e6e6" stroke-width="0.4" />
<polyline points="77,652.5 85,652.5 90,652 92,650 93.5,651.5 95,647 96.5,652 107.6,652.5" fill="none" stroke="#aaa" stroke-width="0.4"/>
<rect x="77.00" y="645.00" width="30.60" height="8.20" fill="none" stroke="#ddd" stroke-width="0.3"/>
<polygon points="53.20,677.60 62.80,673.60 69.80,677.60 61.00,682.20" fill="#070a3a"/>
<line x1="53.20" y1="677.60" x2="52.60" y2="665.80" stroke="#bbb" stroke-width="0.3" />
<line x1="69.80" y1="677.60" x2="70.20" y2="665.80" stroke="#bbb" stroke-width="0.3" />
<path d="M60.8 676 L61.6 666.2 L62.4 676 Z" fill="#2a6ae0"/>
<path d="M61.1 671 L61.6 666.2 L62.1 671 Z" fill="#e85a3a"/>
<linearGradient id="cb" x1="0" y1="0" x2="0" y2="1"><stop offset="0" stop-color="#d8402a"/><stop offset="0.35" stop-color="#e0c060"/><stop offset="0.6" stop-color="#60c8e8"/><stop offset="1" stop-color="#2040c0"/></linearGradient>
<rect x="77.10" y="657.30" width="1.20" height="25.70" fill="url(#cb)"/>
<rect x="80.60" y="657.00" width="27.00" height="26.00" fill="#0a168c"/>
<circle cx="99.40" cy="663.20" r="1.60" fill="#e07a30"/>
<circle cx="99.40" cy="663.20" r="0.80" fill="#f0d040"/>
<circle cx="95.30" cy="668.40" r="1.20" fill="#6ad0f0"/>
<rect x="114.00" y="657.30" width="11.20" height="25.70" fill="none" stroke="#ccc" stroke-width="0.4"/>
<polyline points="115,663 119,663.6 124,663.2" fill="none" stroke="#9cc" stroke-width="0.4"/>
<text x="24.40" y="690.75" font-size="1.8" fill="#f04848">文件路径 数据处理 结果</text>
<rect x="131.30" y="633.00" width="111.50" height="61.20" fill="#fff" stroke="#a8a8a8" stroke-width="1"/>
<rect x="132.80" y="634.50" width="108.50" height="58.20" fill="none" stroke="#dbe9f5" stroke-width="0.5"/>
<line x1="133.30" y1="641.50" x2="240.80" y2="641.50" stroke="#e2eef8" stroke-width="0.5" />
<rect x="133.00" y="634.30" width="3.00" height="1.70" fill="#6ab0e0"/>
<text x="137.00" y="635.85" font-size="1.8" fill="#666">数据处理 数据处理 数据处理</text>
<circle cx="226.00" cy="634.80" r="0.80" fill="#f08080"/>
<circle cx="229.00" cy="634.80" r="0.80" fill="#f08080"/>
<circle cx="232.00" cy="634.80" r="0.80" fill="#f08080"/>
<circle cx="235.00" cy="634.80" r="0.80" fill="#f08080"/>
<circle cx="238.00" cy="634.80" r="0.80" fill="#f08080"/>
<circle cx="134.50" cy="639.00" r="1.70" fill="#9ccff0" stroke="#4aa4dc" stroke-width="0.5"/>
<rect x="133.80" y="638.30" width="1.4" height="1.4" fill="#fff"/>
<circle cx="139.10" cy="639.00" r="1.70" fill="#9ccff0" stroke="#4aa4dc" stroke-width="0.5"/>
<rect x="138.40" y="638.30" width="1.4" height="1.4" fill="#fff"/>
<circle cx="143.70" cy="639.00" r="1.70" fill="#9ccff0" stroke="#4aa4dc" stroke-width="0.5"/>
<rect x="143.00" y="638.30" width="1.4" height="1.4" fill="#fff"/>
<circle cx="148.30" cy="639.00" r="1.70" fill="#9ccff0" stroke="#4aa4dc" stroke-width="0.5"/>
<rect x="147.60" y="638.30" width="1.4" height="1.4" fill="#fff"/>
<circle cx="152.90" cy="639.00" r="1.70" fill="#9ccff0" stroke="#4aa4dc" stroke-width="0.5"/>
<rect x="152.20" y="638.30" width="1.4" height="1.4" fill="#fff"/>
<circle cx="157.50" cy="639.00" r="1.70" fill="#9ccff0" stroke="#4aa4dc" stroke-width="0.5"/>
<rect x="156.80" y="638.30" width="1.4" height="1.4" fill="#fff"/>
<circle cx="162.10" cy="639.00" r="1.70" fill="#9ccff0" stroke="#4aa4dc" stroke-width="0.5"/>
<rect x="161.40" y="638.30" width="1.4" height="1.4" fill="#fff"/>
<circle cx="166.70" cy="639.00" r="1.70" fill="#9ccff0" stroke="#4aa4dc" stroke-width="0.5"/>
<rect x="166.00" y="638.30" width="1.4" height="1.4" fill="#fff"/>
<circle cx="171.30" cy="639.00" r="1.70" fill="#9ccff0" stroke="#4aa4dc" stroke-width="0.5"/>
<rect x="170.60" y="638.30" width="1.4" height="1.4" fill="#fff"/>
<circle cx="175.90" cy="639.00" r="1.70" fill="#9ccff0" stroke="#4aa4dc" stroke-width="0.5"/>
<rect x="175.20" y="638.30" width="1.4" height="1.4" fill="#fff"/>
<rect x="132.70" y="642.00" width="21.10" height="1.60" fill="#56b4e6"/>
<rect x="132.70" y="644.60" width="21.10" height="1.60" fill="#56b4e6"/>
<rect x="155.00" y="642.20" width="6.00" height="1.40" fill="#eee"/>
<rect x="162.50" y="642.20" width="5.00" height="1.40" fill="#eee"/>
<rect x="169.00" y="642.20" width="5.00" height="1.40" fill="#eee"/>
<rect x="174.90" y="642.20" width="5.30" height="1.40" fill="#4a90d0"/>
<rect x="181.50" y="642.20" width="5.50" height="1.40" fill="#eee"/>
<rect x="155.00" y="651.40" width="5.80" height="1.40" fill="#4a90d0"/>
<text x="158.00" y="646.18" font-size="1.6" fill="#888">参数</text>
<rect x="162.00" y="644.80" width="6.00" height="1.60" fill="#fff" stroke="#ddd" stroke-width="0.3"/>
<text x="171.00" y="646.18" font-size="1.6" fill="#888">参数</text>
<rect x="175.00" y="644.80" width="6.00" height="1.60" fill="#fff" stroke="#ddd" stroke-width="0.3"/>
<text x="184.00" y="646.18" font-size="1.6" fill="#888">参数</text>
<rect x="188.00" y="644.80" width="6.00" height="1.60" fill="#fff" stroke="#ddd" stroke-width="0.3"/>
<text x="197.00" y="646.18" font-size="1.6" fill="#888">参数</text>
<rect x="201.00" y="644.80" width="6.00" height="1.60" fill="#fff" stroke="#ddd" stroke-width="0.3"/>
<text x="158.00" y="649.18" font-size="1.6" fill="#888">参数</text>
<rect x="162.00" y="647.80" width="6.00" height="1.60" fill="#fff" stroke="#ddd" stroke-width="0.3"/>
<text x="171.00" y="649.18" font-size="1.6" fill="#888">参数</text>
<rect x="175.00" y="647.80" width="6.00" height="1.60" fill="#fff" stroke="#ddd" stroke-width="0.3"/>
<text x="184.00" y="649.18" font-size="1.6" fill="#888">参数</text>
<rect x="188.00" y="647.80" width="6.00" height="1.60" fill="#fff" stroke="#ddd" stroke-width="0.3"/>
<text x="197.00" y="649.18" font-size="1.6" fill="#888">参数</text>
<rect x="201.00" y="647.80" width="6.00" height="1.60" fill="#fff" stroke="#ddd" stroke-width="0.3"/>
<rect x="159.00" y="653.20" width="61.60" height="29.80" fill="#fff" stroke="#ddd" stroke-width="0.4"/>
<line x1="166.70" y1="653.20" x2="166.70" y2="683.00" stroke="#eee" stroke-width="0.4" />
<line x1="174.40" y1="653.20" x2="174.40" y2="683.00" stroke="#eee" stroke-width="0.4" />
<line x1="182.10" y1="653.20" x2="182.10" y2="683.00" stroke="#eee" stroke-width="0.4" />
<line x1="189.80" y1="653.20" x2="189.80" y2="683.00" stroke="#eee" stroke-width="0.4" />
<line x1="197.50" y1="653.20" x2="197.50" y2="683.00" stroke="#eee" stroke-width="0.4" />
<line x1="205.20" y1="653.20" x2="205.20" y2="683.00" stroke="#eee" stroke-width="0.4" />
<line x1="212.90" y1="653.20" x2="212.90" y2="683.00" stroke="#eee" stroke-width="0.4" />
<line x1="159.00" y1="656.20" x2="220.60" y2="656.20" stroke="#eee" stroke-width="0.4" />
<line x1="159.00" y1="659.20" x2="220.60" y2="659.20" stroke="#eee" stroke-width="0.4" />
<line x1="159.00" y1="662.20" x2="220.60" y2="662.20" stroke="#eee" stroke-width="0.4" />
<line x1="159.00" y1="665.20" x2="220.60" y2="665.20" stroke="#eee" stroke-width="0.4" />
<line x1="159.00" y1="668.20" x2="220.60" y2="668.20" stroke="#eee" stroke-width="0.4" />
<line x1="159.00" y1="671.20" x2="220.60" y2="671.20" stroke="#eee" stroke-width="0.4" />
<line x1="159.00" y1="674.20" x2="220.60" y2="674.20" stroke="#eee" stroke-width="0.4" />
<line x1="159.00" y1="677.20" x2="220.60" y2="677.20" stroke="#eee" stroke-width="0.4" />
<line x1="159.00" y1="680.20" x2="220.60" y2="680.20" stroke="#eee" stroke-width="0.4" />
<path d="M160 682.6 L193 682.6 C196 670 197.5 653.5 200 653.4 C202.5 653.5 204 670 206.5 682.6 L220.6 682.6" fill="none" stroke="#6ab4ee" stroke-width="0.5"/>
<rect x="220.60" y="651.40" width="17.60" height="34.60" fill="#fff" stroke="#e4e4e4" stroke-width="0.4"/>
<line x1="224.00" y1="660.00" x2="234.00" y2="660.00" stroke="#aaa" stroke-width="0.35" />
<line x1="224.00" y1="661.80" x2="234.00" y2="661.80" stroke="#aaa" stroke-width="0.35" />
<line x1="224.00" y1="663.60" x2="234.00" y2="663.60" stroke="#aaa" stroke-width="0.35" />
<line x1="224.00" y1="665.40" x2="234.00" y2="665.40" stroke="#aaa" stroke-width="0.35" />
<line x1="224.00" y1="667.20" x2="234.00" y2="667.20" stroke="#aaa" stroke-width="0.35" />
<line x1="224.00" y1="669.00" x2="234.00" y2="669.00" stroke="#aaa" stroke-width="0.35" />
<line x1="224.00" y1="670.80" x2="234.00" y2="670.80" stroke="#aaa" stroke-width="0.35" />
<line x1="224.00" y1="672.60" x2="234.00" y2="672.60" stroke="#aaa" stroke-width="0.35" />
<line x1="224.00" y1="674.40" x2="234.00" y2="674.40" stroke="#aaa" stroke-width="0.35" />
<text x="137.40" y="690.65" font-size="1.8" fill="#f04848">数据处理结果</text>
<rect x="245.10" y="633.10" width="114.50" height="60.20" fill="#fff" stroke="#a8a8a8" stroke-width="1"/>
<rect x="246.60" y="634.60" width="111.50" height="57.20" fill="none" stroke="#dbe9f5" stroke-width="0.5"/>
<line x1="247.10" y1="641.60" x2="357.60" y2="641.60" stroke="#e2eef8" stroke-width="0.5" />
<rect x="247.00" y="634.40" width="3.00" height="1.60" fill="#6ab0e0"/>
<text x="251.00" y="635.85" font-size="1.8" fill="#666">数据处理 数据处理</text>
<circle cx="343.00" cy="634.80" r="0.80" fill="#f08080"/>
<circle cx="346.00" cy="634.80" r="0.80" fill="#f08080"/>
<circle cx="349.00" cy="634.80" r="0.80" fill="#f08080"/>
<circle cx="352.00" cy="634.80" r="0.80" fill="#f08080"/>
<circle cx="355.00" cy="634.80" r="0.80" fill="#f08080"/>
<circle cx="249.50" cy="639.30" r="1.70" fill="#9ccff0" stroke="#4aa4dc" stroke-width="0.5"/>
<rect x="248.80" y="638.60" width="1.4" height="1.4" fill="#fff"/>
<circle cx="254.10" cy="639.30" r="1.70" fill="#9ccff0" stroke="#4aa4dc" stroke-width="0.5"/>
<rect x="253.40" y="638.60" width="1.4" height="1.4" fill="#fff"/>
<circle cx="258.70" cy="639.30" r="1.70" fill="#9ccff0" stroke="#4aa4dc" stroke-width="0.5"/>
<rect x="258.00" y="638.60" width="1.4" height="1.4" fill="#fff"/>
<circle cx="263.30" cy="639.30" r="1.70" fill="#9ccff0" stroke="#4aa4dc" stroke-width="0.5"/>
<rect x="262.60" y="638.60" width="1.4" height="1.4" fill="#fff"/>
<circle cx="267.90" cy="639.30" r="1.70" fill="#9ccff0" stroke="#4aa4dc" stroke-width="0.5"/>
<rect x="267.20" y="638.60" width="1.4" height="1.4" fill="#fff"/>
<circle cx="272.50" cy="639.30" r="1.70" fill="#9ccff0" stroke="#4aa4dc" stroke-width="0.5"/>
<rect x="271.80" y="638.60" width="1.4" height="1.4" fill="#fff"/>
<circle cx="277.10" cy="639.30" r="1.70" fill="#9ccff0" stroke="#4aa4dc" stroke-width="0.5"/>
<rect x="276.40" y="638.60" width="1.4" height="1.4" fill="#fff"/>
<circle cx="281.70" cy="639.30" r="1.70" fill="#9ccff0" stroke="#4aa4dc" stroke-width="0.5"/>
<rect x="281.00" y="638.60" width="1.4" height="1.4" fill="#fff"/>
<circle cx="286.30" cy="639.30" r="1.70" fill="#9ccff0" stroke="#4aa4dc" stroke-width="0.5"/>
<rect x="285.60" y="638.60" width="1.4" height="1.4" fill="#fff"/>
<circle cx="290.90" cy="639.30" r="1.70" fill="#9ccff0" stroke="#4aa4dc" stroke-width="0.5"/>
<rect x="290.20" y="638.60" width="1.4" height="1.4" fill="#fff"/>
<rect x="247.30" y="642.00" width="21.40" height="1.90" fill="#56b4e6"/>
<rect x="247.30" y="645.10" width="21.40" height="1.80" fill="#56b4e6"/>
<rect x="270.00" y="642.20" width="5.00" height="1.40" fill="#eee"/>
<rect x="276.30" y="642.20" width="5.20" height="1.40" fill="#eee"/>
<rect x="283.00" y="642.20" width="5.50" height="1.40" fill="#eee"/>
<rect x="290.00" y="642.20" width="6.20" height="1.40" fill="#4a90d0"/>
<rect x="297.50" y="642.20" width="5.50" height="1.40" fill="#eee"/>
<rect x="277.20" y="651.20" width="5.50" height="1.80" fill="#4a90d0"/>
<text x="273.00" y="646.18" font-size="1.6" fill="#888">参数</text>
<rect x="277.00" y="644.80" width="6.00" height="1.60" fill="#fff" stroke="#ddd" stroke-width="0.3"/>
<text x="286.00" y="646.18" font-size="1.6" fill="#888">参数</text>
<rect x="290.00" y="644.80" width="6.00" height="1.60" fill="#fff" stroke="#ddd" stroke-width="0.3"/>
<text x="299.00" y="646.18" font-size="1.6" fill="#888">参数</text>
<rect x="303.00" y="644.80" width="6.00" height="1.60" fill="#fff" stroke="#ddd" stroke-width="0.3"/>
<text x="312.00" y="646.18" font-size="1.6" fill="#888">参数</text>
<rect x="316.00" y="644.80" width="6.00" height="1.60" fill="#fff" stroke="#ddd" stroke-width="0.3"/>
<text x="273.00" y="649.18" font-size="1.6" fill="#888">参数</text>
<rect x="277.00" y="647.80" width="6.00" height="1.60" fill="#fff" stroke="#ddd" stroke-width="0.3"/>
<text x="286.00" y="649.18" font-size="1.6" fill="#888">参数</text>
<rect x="290.00" y="647.80" width="6.00" height="1.60" fill="#fff" stroke="#ddd" stroke-width="0.3"/>
<text x="299.00" y="649.18" font-size="1.6" fill="#888">参数</text>
<rect x="303.00" y="647.80" width="6.00" height="1.60" fill="#fff" stroke="#ddd" stroke-width="0.3"/>
<text x="312.00" y="649.18" font-size="1.6" fill="#888">参数</text>
<rect x="316.00" y="647.80" width="6.00" height="1.60" fill="#fff" stroke="#ddd" stroke-width="0.3"/>
<rect x="270.00" y="653.60" width="65.00" height="26.30" fill="#fff" stroke="#e6e6e6" stroke-width="0.4"/>
<line x1="278.00" y1="653.60" x2="278.00" y2="679.90" stroke="#f0f0f0" stroke-width="0.4" />
<line x1="286.00" y1="653.60" x2="286.00" y2="679.90" stroke="#f0f0f0" stroke-width="0.4" />
<line x1="294.00" y1="653.60" x2="294.00" y2="679.90" stroke="#f0f0f0" stroke-width="0.4" />
<line x1="302.00" y1="653.60" x2="302.00" y2="679.90" stroke="#f0f0f0" stroke-width="0.4" />
<line x1="310.00" y1="653.60" x2="310.00" y2="679.90" stroke="#f0f0f0" stroke-width="0.4" />
<line x1="318.00" y1="653.60" x2="318.00" y2="679.90" stroke="#f0f0f0" stroke-width="0.4" />
<line x1="326.00" y1="653.60" x2="326.00" y2="679.90" stroke="#f0f0f0" stroke-width="0.4" />
<rect x="274.50" y="679.00" width="3.00" height="0.90" fill="#1e8ae6"/>
<rect x="279.30" y="679.60" width="3.00" height="0.30" fill="#1e8ae6"/>
<rect x="284.00" y="669.50" width="3.00" height="10.40" fill="#1e8ae6"/>
<rect x="288.90" y="662.80" width="3.00" height="17.10" fill="#1e8ae6"/>
<rect x="293.80" y="657.00" width="3.00" height="22.90" fill="#1e8ae6"/>
<rect x="298.70" y="656.30" width="3.00" height="23.60" fill="#1e8ae6"/>
<rect x="303.50" y="655.80" width="3.00" height="24.10" fill="#1e8ae6"/>
<rect x="308.40" y="672.00" width="3.00" height="7.90" fill="#1e8ae6"/>
<rect x="337.70" y="651.80" width="18.30" height="33.60" fill="#fff" stroke="#e4e4e4" stroke-width="0.4"/>
<line x1="341.00" y1="660.00" x2="351.00" y2="660.00" stroke="#aaa" stroke-width="0.35" />
<line x1="341.00" y1="661.80" x2="351.00" y2="661.80" stroke="#aaa" stroke-width="0.35" />
<line x1="341.00" y1="663.60" x2="351.00" y2="663.60" stroke="#aaa" stroke-width="0.35" />
<line x1="341.00" y1="665.40" x2="351.00" y2="665.40" stroke="#aaa" stroke-width="0.35" />
<line x1="341.00" y1="667.20" x2="351.00" y2="667.20" stroke="#aaa" stroke-width="0.35" />
<line x1="341.00" y1="669.00" x2="351.00" y2="669.00" stroke="#aaa" stroke-width="0.35" />
<line x1="341.00" y1="670.80" x2="351.00" y2="670.80" stroke="#aaa" stroke-width="0.35" />
<line x1="341.00" y1="672.60" x2="351.00" y2="672.60" stroke="#aaa" stroke-width="0.35" />
<line x1="341.00" y1="674.40" x2="351.00" y2="674.40" stroke="#aaa" stroke-width="0.35" />
<text x="252.80" y="690.25" font-size="1.8" fill="#f04848">数据处理结果</text>
<rect x="394.80" y="59.50" width="14.00" height="14.00" fill="#00bfe7"/>
<text x="401.80" y="71.60" font-size="15.5" font-weight="normal" stroke="#fff" stroke-width="0.4" fill="#fff" text-anchor="middle">4</text>
<text x="418.40" y="70.91" font-size="12.8" fill="#111" font-weight="bold" stroke="#111" stroke-width="0.05" textLength="273.00" lengthAdjust="spacing">支持一次性大批量数据同时处理,轻松应对海量</text>
<text x="418.40" y="86.91" font-size="12.8" fill="#111" font-weight="bold" stroke="#111" stroke-width="0.05" textLength="40.00" lengthAdjust="spacing">数据。</text>
<rect x="419.70" y="97.00" width="145.30" height="78.20" fill="#fff" stroke="#dde9f4" stroke-width="0.6"/>
<rect x="421.00" y="98.30" width="3.00" height="1.70" fill="#6ab0e0"/>
<text x="425.00" y="99.88" font-size="1.9" fill="#666" textLength="20.00" lengthAdjust="spacingAndGlyphs">大批量数据处理软件</text>
<circle cx="552.00" cy="98.80" r="0.80" fill="#f09090"/>
<circle cx="554.50" cy="98.80" r="0.80" fill="#f09090"/>
<circle cx="557.00" cy="98.80" r="0.80" fill="#f09090"/>
<circle cx="559.50" cy="98.80" r="0.80" fill="#f09090"/>
<circle cx="562.00" cy="98.80" r="0.80" fill="#f09090"/>
<circle cx="422.50" cy="102.60" r="1.70" fill="#9ccff0" stroke="#4aa4dc" stroke-width="0.5"/>
<rect x="421.80" y="101.90" width="1.4" height="1.4" fill="#fff"/>
<circle cx="426.80" cy="102.60" r="1.70" fill="#9ccff0" stroke="#4aa4dc" stroke-width="0.5"/>
<rect x="426.10" y="101.90" width="1.4" height="1.4" fill="#fff"/>
<circle cx="431.10" cy="102.60" r="1.70" fill="#9ccff0" stroke="#4aa4dc" stroke-width="0.5"/>
<rect x="430.40" y="101.90" width="1.4" height="1.4" fill="#fff"/>
<circle cx="435.40" cy="102.60" r="1.70" fill="#9ccff0" stroke="#4aa4dc" stroke-width="0.5"/>
<rect x="434.70" y="101.90" width="1.4" height="1.4" fill="#fff"/>
<circle cx="439.70" cy="102.60" r="1.70" fill="#9ccff0" stroke="#4aa4dc" stroke-width="0.5"/>
<rect x="439.00" y="101.90" width="1.4" height="1.4" fill="#fff"/>
<circle cx="444.00" cy="102.60" r="1.70" fill="#9ccff0" stroke="#4aa4dc" stroke-width="0.5"/>
<rect x="443.30" y="101.90" width="1.4" height="1.4" fill="#fff"/>
<circle cx="448.30" cy="102.60" r="1.70" fill="#9ccff0" stroke="#4aa4dc" stroke-width="0.5"/>
<rect x="447.60" y="101.90" width="1.4" height="1.4" fill="#fff"/>
<circle cx="452.60" cy="102.60" r="1.70" fill="#9ccff0" stroke="#4aa4dc" stroke-width="0.5"/>
<rect x="451.90" y="101.90" width="1.4" height="1.4" fill="#fff"/>
<circle cx="456.90" cy="102.60" r="1.70" fill="#9ccff0" stroke="#4aa4dc" stroke-width="0.5"/>
<rect x="456.20" y="101.90" width="1.4" height="1.4" fill="#fff"/>
<circle cx="461.20" cy="102.60" r="1.70" fill="#9ccff0" stroke="#4aa4dc" stroke-width="0.5"/>
<rect x="460.50" y="101.90" width="1.4" height="1.4" fill="#fff"/>
<circle cx="465.50" cy="102.60" r="1.70" fill="#9ccff0" stroke="#4aa4dc" stroke-width="0.5"/>
<rect x="464.80" y="101.90" width="1.4" height="1.4" fill="#fff"/>
<rect x="420.50" y="105.00" width="21.50" height="2.00" fill="#56b4e6"/>
<rect x="420.50" y="107.60" width="21.50" height="6.40" fill="#9cd2f0"/>
<rect x="421.00" y="116.00" width="6.00" height="1.00" fill="#ccc"/>
<rect x="428.00" y="115.80" width="3.00" height="1.40" fill="#555"/>
<rect x="437.00" y="116.00" width="1.00" height="1.00" fill="#9bc"/>
<rect x="421.00" y="119.80" width="6.00" height="1.00" fill="#ccc"/>
<rect x="428.00" y="119.60" width="3.00" height="1.40" fill="#555"/>
<rect x="437.00" y="119.80" width="1.00" height="1.00" fill="#9bc"/>
<rect x="421.00" y="123.60" width="6.00" height="1.00" fill="#ccc"/>
<rect x="428.00" y="123.40" width="3.00" height="1.40" fill="#555"/>
<rect x="437.00" y="123.60" width="1.00" height="1.00" fill="#9bc"/>
<rect x="421.00" y="127.40" width="6.00" height="1.00" fill="#ccc"/>
<rect x="428.00" y="127.20" width="3.00" height="1.40" fill="#555"/>
<rect x="437.00" y="127.40" width="1.00" height="1.00" fill="#9bc"/>
<rect x="421.00" y="131.20" width="6.00" height="1.00" fill="#ccc"/>
<rect x="428.00" y="131.00" width="3.00" height="1.40" fill="#555"/>
<rect x="437.00" y="131.20" width="1.00" height="1.00" fill="#9bc"/>
<rect x="421.00" y="135.00" width="6.00" height="1.00" fill="#ccc"/>
<rect x="428.00" y="134.80" width="3.00" height="1.40" fill="#555"/>
<rect x="437.00" y="135.00" width="1.00" height="1.00" fill="#9bc"/>
<rect x="421.00" y="138.80" width="6.00" height="1.00" fill="#ccc"/>
<rect x="428.00" y="138.60" width="3.00" height="1.40" fill="#555"/>
<rect x="437.00" y="138.80" width="1.00" height="1.00" fill="#9bc"/>
<rect x="421.00" y="142.60" width="6.00" height="1.00" fill="#ccc"/>
<rect x="428.00" y="142.40" width="3.00" height="1.40" fill="#555"/>
<rect x="437.00" y="142.60" width="1.00" height="1.00" fill="#9bc"/>
<rect x="421.00" y="146.40" width="6.00" height="1.00" fill="#ccc"/>
<rect x="428.00" y="146.20" width="3.00" height="1.40" fill="#555"/>
<rect x="437.00" y="146.40" width="1.00" height="1.00" fill="#9bc"/>
<rect x="421.00" y="150.20" width="6.00" height="1.00" fill="#ccc"/>
<rect x="428.00" y="150.00" width="3.00" height="1.40" fill="#555"/>
<rect x="437.00" y="150.20" width="1.00" height="1.00" fill="#9bc"/>
<rect x="421.00" y="154.00" width="6.00" height="1.00" fill="#ccc"/>
<rect x="428.00" y="153.80" width="3.00" height="1.40" fill="#555"/>
<rect x="437.00" y="154.00" width="1.00" height="1.00" fill="#9bc"/>
<rect x="421.00" y="157.80" width="6.00" height="1.00" fill="#ccc"/>
<rect x="428.00" y="157.60" width="3.00" height="1.40" fill="#555"/>
<rect x="437.00" y="157.80" width="1.00" height="1.00" fill="#9bc"/>
<rect x="421.00" y="161.60" width="6.00" height="1.00" fill="#ccc"/>
<rect x="428.00" y="161.40" width="3.00" height="1.40" fill="#555"/>
<rect x="437.00" y="161.60" width="1.00" height="1.00" fill="#9bc"/>
<rect x="421.00" y="165.40" width="6.00" height="1.00" fill="#ccc"/>
<rect x="428.00" y="165.20" width="3.00" height="1.40" fill="#555"/>
<rect x="437.00" y="165.40" width="1.00" height="1.00" fill="#9bc"/>
<rect x="421.00" y="169.20" width="6.00" height="1.00" fill="#ccc"/>
<rect x="428.00" y="169.00" width="3.00" height="1.40" fill="#555"/>
<rect x="437.00" y="169.20" width="1.00" height="1.00" fill="#9bc"/>
<rect x="444.00" y="105.50" width="6.00" height="1.50" fill="#ddd"/>
<rect x="451.00" y="105.50" width="5.50" height="1.50" fill="#4a90d0"/>
<rect x="458.00" y="105.50" width="5.00" height="1.50" fill="#ddd"/>
<rect x="464.00" y="105.50" width="5.00" height="1.50" fill="#ddd"/>
<rect x="470.00" y="105.50" width="4.00" height="1.50" fill="#ddd"/>
<rect x="447.00" y="108.00" width="86.00" height="56.70" fill="#fff"/>
<line x1="461.30" y1="108.00" x2="461.30" y2="164.70" stroke="#eee" stroke-width="0.4" />
<line x1="475.60" y1="108.00" x2="475.60" y2="164.70" stroke="#eee" stroke-width="0.4" />
<line x1="489.90" y1="108.00" x2="489.90" y2="164.70" stroke="#eee" stroke-width="0.4" />
<line x1="504.20" y1="108.00" x2="504.20" y2="164.70" stroke="#eee" stroke-width="0.4" />
<line x1="518.50" y1="108.00" x2="518.50" y2="164.70" stroke="#eee" stroke-width="0.4" />
<line x1="447.00" y1="119.30" x2="533.00" y2="119.30" stroke="#eee" stroke-width="0.4" />
<line x1="447.00" y1="130.60" x2="533.00" y2="130.60" stroke="#eee" stroke-width="0.4" />
<line x1="447.00" y1="141.90" x2="533.00" y2="141.90" stroke="#eee" stroke-width="0.4" />
<line x1="447.00" y1="153.20" x2="533.00" y2="153.20" stroke="#eee" stroke-width="0.4" />
<line x1="447.00" y1="108.00" x2="447.00" y2="164.70" stroke="#ccc" stroke-width="0.4" />
<line x1="447.00" y1="164.70" x2="533.00" y2="164.70" stroke="#ccc" stroke-width="0.4" />
<path d="M448 164.2 L466 164 L503 164 L506 163.2 L509 164.2 L533 164.4" fill="none" stroke="#777" stroke-width="1.3"/>
<path d="M467 163.5 C473 158 476 140 480.5 117 C482.5 107 489.5 107 491.5 117 C496 140 499 158 503 163.5" fill="none" stroke="#6a6a6a" stroke-width="5.6" stroke-linejoin="round" stroke-linecap="round"/>
<path d="M467 163.5 C473 158 476 140 480.5 117 C482.5 107 489.5 107 491.5 117 C496 140 499 158 503 163.5" fill="none" stroke="#9a9a9a" stroke-width="1" stroke-dasharray="0.8 2.2"/>
<path d="M470 160 L472 154 M498 150 L499 154 M478 124 L479 120" stroke="#e0a050" stroke-width="0.9"/>
<path d="M475 145 L476 140 M494 132 L495 136" stroke="#5a8ae0" stroke-width="0.9"/>
<rect x="465.00" y="172.00" width="5.00" height="1.00" fill="#f06060"/>
<rect x="535.50" y="109.00" width="26.50" height="56.00" fill="#dedede"/>
<rect x="537.00" y="110.00" width="3.00" height="2.40" fill="#c4c4c4"/>
<rect x="541.00" y="110.00" width="12.00" height="2.40" fill="#a8a8a8"/>
<rect x="555.00" y="110.00" width="6.00" height="2.40" fill="#b8b8b8"/>
<rect x="537.00" y="113.90" width="3.00" height="2.40" fill="#c4c4c4"/>
<rect x="541.00" y="113.90" width="12.00" height="2.40" fill="#a8a8a8"/>
<rect x="555.00" y="113.90" width="6.00" height="2.40" fill="#b8b8b8"/>
<rect x="537.00" y="117.80" width="3.00" height="2.40" fill="#c4c4c4"/>
<rect x="541.00" y="117.80" width="12.00" height="2.40" fill="#a8a8a8"/>
<rect x="555.00" y="117.80" width="6.00" height="2.40" fill="#b8b8b8"/>
<rect x="537.00" y="121.70" width="3.00" height="2.40" fill="#c4c4c4"/>
<rect x="541.00" y="121.70" width="12.00" height="2.40" fill="#a8a8a8"/>
<rect x="555.00" y="121.70" width="6.00" height="2.40" fill="#b8b8b8"/>
<rect x="537.00" y="125.60" width="3.00" height="2.40" fill="#c4c4c4"/>
<rect x="541.00" y="125.60" width="12.00" height="2.40" fill="#a8a8a8"/>
<rect x="555.00" y="125.60" width="6.00" height="2.40" fill="#b8b8b8"/>
<rect x="537.00" y="129.50" width="3.00" height="2.40" fill="#c4c4c4"/>
<rect x="541.00" y="129.50" width="12.00" height="2.40" fill="#a8a8a8"/>
<rect x="555.00" y="129.50" width="6.00" height="2.40" fill="#b8b8b8"/>
<rect x="537.00" y="133.40" width="3.00" height="2.40" fill="#c4c4c4"/>
<rect x="541.00" y="133.40" width="12.00" height="2.40" fill="#a8a8a8"/>
<rect x="555.00" y="133.40" width="6.00" height="2.40" fill="#b8b8b8"/>
<rect x="537.00" y="137.30" width="3.00" height="2.40" fill="#c4c4c4"/>
<rect x="541.00" y="137.30" width="12.00" height="2.40" fill="#a8a8a8"/>
<rect x="555.00" y="137.30" width="6.00" height="2.40" fill="#b8b8b8"/>
<rect x="537.00" y="141.20" width="3.00" height="2.40" fill="#c4c4c4"/>
<rect x="541.00" y="141.20" width="12.00" height="2.40" fill="#a8a8a8"/>
<rect x="555.00" y="141.20" width="6.00" height="2.40" fill="#b8b8b8"/>
<rect x="537.00" y="145.10" width="3.00" height="2.40" fill="#c4c4c4"/>
<rect x="541.00" y="145.10" width="12.00" height="2.40" fill="#a8a8a8"/>
<rect x="555.00" y="145.10" width="6.00" height="2.40" fill="#b8b8b8"/>
<rect x="537.00" y="149.00" width="3.00" height="2.40" fill="#c4c4c4"/>
<rect x="541.00" y="149.00" width="12.00" height="2.40" fill="#a8a8a8"/>
<rect x="555.00" y="149.00" width="6.00" height="2.40" fill="#b8b8b8"/>
<rect x="537.00" y="152.90" width="3.00" height="2.40" fill="#c4c4c4"/>
<rect x="541.00" y="152.90" width="12.00" height="2.40" fill="#a8a8a8"/>
<rect x="555.00" y="152.90" width="6.00" height="2.40" fill="#b8b8b8"/>
<rect x="537.00" y="156.80" width="3.00" height="2.40" fill="#c4c4c4"/>
<rect x="541.00" y="156.80" width="12.00" height="2.40" fill="#a8a8a8"/>
<rect x="555.00" y="156.80" width="6.00" height="2.40" fill="#b8b8b8"/>
<rect x="537.00" y="160.70" width="3.00" height="2.40" fill="#c4c4c4"/>
<rect x="541.00" y="160.70" width="12.00" height="2.40" fill="#a8a8a8"/>
<rect x="555.00" y="160.70" width="6.00" height="2.40" fill="#b8b8b8"/>
<rect x="534.50" y="108.00" width="28.60" height="57.80" fill="none" stroke="#e8474a" stroke-width="1.1"/>
<line x1="563.10" y1="108.00" x2="575.00" y2="97.30" stroke="#e8474a" stroke-width="1.1" />
<rect x="575.00" y="97.10" width="117.30" height="78.40" fill="#fff" stroke="#e8474a" stroke-width="1.2"/>
<text x="636.60" y="106.74" font-size="6.5" fill="#1a5fb0" font-weight="bold" text-anchor="middle" textLength="24.00" lengthAdjust="spacingAndGlyphs">大批量数据</text>
<line x1="580.50" y1="115.10" x2="591.40" y2="115.10" stroke="#c8866a" stroke-width="0.9" />
<rect x="593.50" y="112.90" width="13.70" height="4.40" fill="#cfcfcf"/>
<text x="608.00" y="116.68" font-size="4.4" fill="#111" font-weight="bold" textLength="48.00" lengthAdjust="spacingAndGlyphs">VTMR20-010-T-黑岩儿-10mm</text>
<rect x="656.40" y="112.90" width="14.30" height="4.40" fill="#cfcfcf"/>
<text x="671.00" y="116.68" font-size="4.4" fill="#111" font-weight="bold" textLength="12.70" lengthAdjust="spacingAndGlyphs">.25.pea</text>
<line x1="580.50" y1="119.67" x2="591.40" y2="119.67" stroke="#58c86a" stroke-width="0.9" />
<rect x="593.50" y="117.47" width="13.70" height="4.40" fill="#cfcfcf"/>
<text x="608.00" y="121.25" font-size="4.4" fill="#111" font-weight="bold" textLength="48.00" lengthAdjust="spacingAndGlyphs">VTMR20-010-T-黑岩儿-10mm</text>
<rect x="656.40" y="117.47" width="14.30" height="4.40" fill="#cfcfcf"/>
<text x="671.00" y="121.25" font-size="4.4" fill="#111" font-weight="bold" textLength="12.70" lengthAdjust="spacingAndGlyphs">.26.pea</text>
<line x1="580.50" y1="124.24" x2="591.40" y2="124.24" stroke="#c060e0" stroke-width="0.9" />
<rect x="593.50" y="122.04" width="13.70" height="4.40" fill="#cfcfcf"/>
<text x="608.00" y="125.82" font-size="4.4" fill="#111" font-weight="bold" textLength="48.00" lengthAdjust="spacingAndGlyphs">VTMR20-010-T-黑岩儿-10mm</text>
<rect x="656.40" y="122.04" width="14.30" height="4.40" fill="#cfcfcf"/>
<text x="671.00" y="125.82" font-size="4.4" fill="#111" font-weight="bold" textLength="12.70" lengthAdjust="spacingAndGlyphs">.27.pea</text>
<line x1="580.50" y1="128.81" x2="591.40" y2="128.81" stroke="#9a80e0" stroke-width="0.9" />
<rect x="593.50" y="126.61" width="13.70" height="4.40" fill="#cfcfcf"/>
<text x="608.00" y="130.39" font-size="4.4" fill="#111" font-weight="bold" textLength="48.00" lengthAdjust="spacingAndGlyphs">VTMR20-010-T-黑岩儿-10mm</text>
<rect x="656.40" y="126.61" width="14.30" height="4.40" fill="#cfcfcf"/>
<text x="671.00" y="130.39" font-size="4.4" fill="#111" font-weight="bold" textLength="12.70" lengthAdjust="spacingAndGlyphs">.28.pea</text>
<line x1="580.50" y1="133.38" x2="591.40" y2="133.38" stroke="#e0a070" stroke-width="0.9" />
<rect x="593.50" y="131.18" width="13.70" height="4.40" fill="#cfcfcf"/>
<text x="608.00" y="134.96" font-size="4.4" fill="#111" font-weight="bold" textLength="48.00" lengthAdjust="spacingAndGlyphs">VTMR20-010-T-黑岩儿-10mm</text>
<rect x="656.40" y="131.18" width="14.30" height="4.40" fill="#cfcfcf"/>
<text x="671.00" y="134.96" font-size="4.4" fill="#111" font-weight="bold" textLength="12.70" lengthAdjust="spacingAndGlyphs">.29.pea</text>
<line x1="580.50" y1="137.95" x2="591.40" y2="137.95" stroke="#c89a50" stroke-width="0.9" />
<rect x="593.50" y="135.75" width="13.70" height="4.40" fill="#cfcfcf"/>
<text x="608.00" y="139.53" font-size="4.4" fill="#111" font-weight="bold" textLength="48.00" lengthAdjust="spacingAndGlyphs">VTMR20-010-T-黑岩儿-10mm</text>
<rect x="656.40" y="135.75" width="14.30" height="4.40" fill="#cfcfcf"/>
<text x="671.00" y="139.53" font-size="4.4" fill="#111" font-weight="bold" textLength="12.70" lengthAdjust="spacingAndGlyphs">.30.pea</text>
<line x1="580.50" y1="142.52" x2="591.40" y2="142.52" stroke="#e07a9a" stroke-width="0.9" />
<rect x="593.50" y="140.32" width="13.70" height="4.40" fill="#cfcfcf"/>
<text x="608.00" y="144.10" font-size="4.4" fill="#111" font-weight="bold" textLength="48.00" lengthAdjust="spacingAndGlyphs">VTMR20-010-T-黑岩儿-10mm</text>
<rect x="656.40" y="140.32" width="14.30" height="4.40" fill="#cfcfcf"/>
<text x="671.00" y="144.10" font-size="4.4" fill="#111" font-weight="bold" textLength="12.70" lengthAdjust="spacingAndGlyphs">.31.pea</text>
<line x1="580.50" y1="147.09" x2="591.40" y2="147.09" stroke="#5ab870" stroke-width="0.9" />
<rect x="593.50" y="144.89" width="13.70" height="4.40" fill="#cfcfcf"/>
<text x="608.00" y="148.67" font-size="4.4" fill="#111" font-weight="bold" textLength="48.00" lengthAdjust="spacingAndGlyphs">VTMR20-010-T-黑岩儿-10mm</text>
<rect x="656.40" y="144.89" width="14.30" height="4.40" fill="#cfcfcf"/>
<text x="671.00" y="148.67" font-size="4.4" fill="#111" font-weight="bold" textLength="12.70" lengthAdjust="spacingAndGlyphs">.32.pea</text>
<line x1="580.50" y1="151.66" x2="591.40" y2="151.66" stroke="#e08a60" stroke-width="0.9" />
<rect x="593.50" y="149.46" width="13.70" height="4.40" fill="#cfcfcf"/>
<text x="608.00" y="153.24" font-size="4.4" fill="#111" font-weight="bold" textLength="48.00" lengthAdjust="spacingAndGlyphs">VTMR20-010-T-黑岩儿-10mm</text>
<rect x="656.40" y="149.46" width="14.30" height="4.40" fill="#cfcfcf"/>
<text x="671.00" y="153.24" font-size="4.4" fill="#111" font-weight="bold" textLength="12.70" lengthAdjust="spacingAndGlyphs">.33.pea</text>
<line x1="580.50" y1="156.23" x2="591.40" y2="156.23" stroke="#9ab0c0" stroke-width="0.9" />
<rect x="593.50" y="154.03" width="13.70" height="4.40" fill="#cfcfcf"/>
<text x="608.00" y="157.81" font-size="4.4" fill="#111" font-weight="bold" textLength="48.00" lengthAdjust="spacingAndGlyphs">VTMR20-010-T-黑岩儿-10mm</text>
<rect x="656.40" y="154.03" width="14.30" height="4.40" fill="#cfcfcf"/>
<text x="671.00" y="157.81" font-size="4.4" fill="#111" font-weight="bold" textLength="12.70" lengthAdjust="spacingAndGlyphs">.34.pea</text>
<line x1="580.50" y1="160.80" x2="591.40" y2="160.80" stroke="#a06a3a" stroke-width="0.9" />
<rect x="593.50" y="158.60" width="13.70" height="4.40" fill="#cfcfcf"/>
<text x="608.00" y="162.38" font-size="4.4" fill="#111" font-weight="bold" textLength="48.00" lengthAdjust="spacingAndGlyphs">VTMR20-010-T-黑岩儿-10mm</text>
<rect x="656.40" y="158.60" width="14.30" height="4.40" fill="#cfcfcf"/>
<text x="671.00" y="162.38" font-size="4.4" fill="#111" font-weight="bold" textLength="12.70" lengthAdjust="spacingAndGlyphs">.35.pea</text>
<rect x="395.60" y="196.00" width="14.00" height="14.00" fill="#0068b7"/>
<text x="402.60" y="208.10" font-size="15.5" font-weight="normal" stroke="#fff" stroke-width="0.4" fill="#fff" text-anchor="middle">5</text>
<text x="417.20" y="207.41" font-size="12.8" fill="#111" font-weight="bold" stroke="#111" stroke-width="0.05" textLength="298.20" lengthAdjust="spacing">批量结果导入,多核并行数据处理,效率四倍提升。</text>
<rect x="395.60" y="226.80" width="14.00" height="14.00" fill="#00bfe7"/>
<text x="402.60" y="238.90" font-size="15.5" font-weight="normal" stroke="#fff" stroke-width="0.4" fill="#fff" text-anchor="middle">6</text>
<text x="417.20" y="238.41" font-size="12.8" fill="#111" font-weight="bold" stroke="#111" stroke-width="0.05" textLength="250.80" lengthAdjust="spacing">数据存储本地化,有力保障科研信息安全。</text>
<text x="410" y="315.4" font-size="23.5" font-weight="bold" fill="#0068b7" textLength="207.6" lengthAdjust="spacingAndGlyphs">COMPREHENSIVE</text>
<text x="409" y="342.3" font-size="23.5" font-weight="bold" fill="#0068b7" textLength="118.6" lengthAdjust="spacingAndGlyphs">UPGRADE</text>
<text x="411.00" y="376.76" font-size="21" fill="#111" font-weight="bold" stroke="#111" stroke-width="0.45" textLength="86.00" lengthAdjust="spacing">全面升级</text>
<path d="M395.40 404.50 h4.6 v-2.4 l4.6 4.2 l-4.6 4.2 v-2.4 h-4.6z" fill="#1a78c8"/>
<text x="408.30" y="411.06" font-size="12.4" fill="#111" font-weight="bold" stroke="#111" stroke-width="0.05" textLength="285.00" lengthAdjust="spacing">纽迈独有的全新核磁数据反演算法,分辨率数量级提升</text>
<rect x="414.50" y="420.40" width="136.90" height="102.40" fill="#fff" stroke="#dcdcdc" stroke-width="0.8" stroke-dasharray="1.2 0.6"/>
<rect x="414.00" y="522.80" width="137.90" height="14.00" fill="#0068b7"/>
<text x="482.95" y="533.51" font-size="9.2" fill="#fff" text-anchor="middle" textLength="34.00" lengthAdjust="spacingAndGlyphs">低分辨率</text>
<rect x="435.10" y="424.30" width="108.70" height="82.30" fill="#fff" stroke="#333" stroke-width="0.7"/>
<line x1="435.10" y1="502.50" x2="436.30" y2="502.50" stroke="#333" stroke-width="0.4" />
<text x="433.60" y="503.87" font-size="3.8" fill="#111" text-anchor="end" stroke="#111" stroke-width="0.12">0.0</text>
<line x1="435.10" y1="488.65" x2="436.30" y2="488.65" stroke="#333" stroke-width="0.4" />
<text x="433.60" y="490.02" font-size="3.8" fill="#111" text-anchor="end" stroke="#111" stroke-width="0.12">0.1</text>
<line x1="435.10" y1="474.80" x2="436.30" y2="474.80" stroke="#333" stroke-width="0.4" />
<text x="433.60" y="476.17" font-size="3.8" fill="#111" text-anchor="end" stroke="#111" stroke-width="0.12">0.2</text>
<line x1="435.10" y1="460.95" x2="436.30" y2="460.95" stroke="#333" stroke-width="0.4" />
<text x="433.60" y="462.32" font-size="3.8" fill="#111" text-anchor="end" stroke="#111" stroke-width="0.12">0.3</text>
<line x1="435.10" y1="447.10" x2="436.30" y2="447.10" stroke="#333" stroke-width="0.4" />
<text x="433.60" y="448.47" font-size="3.8" fill="#111" text-anchor="end" stroke="#111" stroke-width="0.12">0.4</text>
<line x1="435.10" y1="433.25" x2="436.30" y2="433.25" stroke="#333" stroke-width="0.4" />
<text x="433.60" y="434.62" font-size="3.8" fill="#111" text-anchor="end" stroke="#111" stroke-width="0.12">0.5</text>
<line x1="438.70" y1="506.60" x2="438.70" y2="505.40" stroke="#333" stroke-width="0.4" />
<text x="438.70" y="512.40" font-size="3.4" fill="#222" text-anchor="middle">10<tspan font-size="2.4" dy="-1.2">-1</tspan></text>
<line x1="458.64" y1="506.60" x2="458.64" y2="505.40" stroke="#333" stroke-width="0.4" />
<text x="458.64" y="512.40" font-size="3.4" fill="#222" text-anchor="middle">10<tspan font-size="2.4" dy="-1.2">0</tspan></text>
<line x1="478.58" y1="506.60" x2="478.58" y2="505.40" stroke="#333" stroke-width="0.4" />
<text x="478.58" y="512.40" font-size="3.4" fill="#222" text-anchor="middle">10<tspan font-size="2.4" dy="-1.2">1</tspan></text>
<line x1="498.52" y1="506.60" x2="498.52" y2="505.40" stroke="#333" stroke-width="0.4" />
<text x="498.52" y="512.40" font-size="3.4" fill="#222" text-anchor="middle">10<tspan font-size="2.4" dy="-1.2">2</tspan></text>
<line x1="518.46" y1="506.60" x2="518.46" y2="505.40" stroke="#333" stroke-width="0.4" />
<text x="518.46" y="512.40" font-size="3.4" fill="#222" text-anchor="middle">10<tspan font-size="2.4" dy="-1.2">3</tspan></text>
<line x1="538.40" y1="506.60" x2="538.40" y2="505.40" stroke="#333" stroke-width="0.4" />
<text x="538.40" y="512.40" font-size="3.4" fill="#222" text-anchor="middle">10<tspan font-size="2.4" dy="-1.2">4</tspan></text>
<text x="489.00" y="517.10" font-size="3.6" fill="#222" text-anchor="middle">T<tspan font-size="2.4" dy="0.8">2</tspan><tspan dy="-0.8">[ms]</tspan></text>
<text transform="translate(422.20,465) rotate(-90)" font-size="3.6" fill="#222" text-anchor="middle">Intensity [a.u.]</text>
<path d="M438.7 502.5 L467.2 502.5 C468 490 468.5 440 469.8 427.2 C470.6 435 471.2 445 472 458 C472.8 480 473.4 500 474.5 502 C475.5 502.5 476.2 502 476.8 496 C477.5 480 478 466 479.2 464.4 C480.4 466 481 480 481.8 496 C482.2 502 482.5 502.5 483.5 502.5 L490.5 502.5 C491 499 491.5 498 492.1 498 C492.7 498 493.2 499 493.6 502.5 L520.8 502.5 L521.1 498.2 L521.5 502.5 L538.4 502.5" fill="none" stroke="#2a7ad0" stroke-width="0.8" stroke-linejoin="round"/>
<rect x="560.50" y="420.40" width="136.80" height="102.40" fill="#fff" stroke="#dcdcdc" stroke-width="0.8" stroke-dasharray="1.2 0.6"/>
<rect x="560.00" y="522.80" width="137.80" height="14.00" fill="#0068b7"/>
<rect x="580.10" y="424.30" width="108.70" height="82.30" fill="#fff" stroke="#333" stroke-width="0.7"/>
<line x1="580.10" y1="502.50" x2="581.30" y2="502.50" stroke="#333" stroke-width="0.4" />
<text x="578.60" y="503.87" font-size="3.8" fill="#111" text-anchor="end" stroke="#111" stroke-width="0.12">0.0</text>
<line x1="580.10" y1="488.65" x2="581.30" y2="488.65" stroke="#333" stroke-width="0.4" />
<text x="578.60" y="490.02" font-size="3.8" fill="#111" text-anchor="end" stroke="#111" stroke-width="0.12">0.1</text>
<line x1="580.10" y1="474.80" x2="581.30" y2="474.80" stroke="#333" stroke-width="0.4" />
<text x="578.60" y="476.17" font-size="3.8" fill="#111" text-anchor="end" stroke="#111" stroke-width="0.12">0.2</text>
<line x1="580.10" y1="460.95" x2="581.30" y2="460.95" stroke="#333" stroke-width="0.4" />
<text x="578.60" y="462.32" font-size="3.8" fill="#111" text-anchor="end" stroke="#111" stroke-width="0.12">0.3</text>
<line x1="580.10" y1="447.10" x2="581.30" y2="447.10" stroke="#333" stroke-width="0.4" />
<text x="578.60" y="448.47" font-size="3.8" fill="#111" text-anchor="end" stroke="#111" stroke-width="0.12">0.4</text>
<line x1="580.10" y1="433.25" x2="581.30" y2="433.25" stroke="#333" stroke-width="0.4" />
<text x="578.60" y="434.62" font-size="3.8" fill="#111" text-anchor="end" stroke="#111" stroke-width="0.12">0.5</text>
<line x1="583.70" y1="506.60" x2="583.70" y2="505.40" stroke="#333" stroke-width="0.4" />
<text x="583.70" y="512.40" font-size="3.4" fill="#222" text-anchor="middle">10<tspan font-size="2.4" dy="-1.2">-1</tspan></text>
<line x1="603.64" y1="506.60" x2="603.64" y2="505.40" stroke="#333" stroke-width="0.4" />
<text x="603.64" y="512.40" font-size="3.4" fill="#222" text-anchor="middle">10<tspan font-size="2.4" dy="-1.2">0</tspan></text>
<line x1="623.58" y1="506.60" x2="623.58" y2="505.40" stroke="#333" stroke-width="0.4" />
<text x="623.58" y="512.40" font-size="3.4" fill="#222" text-anchor="middle">10<tspan font-size="2.4" dy="-1.2">1</tspan></text>
<line x1="643.52" y1="506.60" x2="643.52" y2="505.40" stroke="#333" stroke-width="0.4" />
<text x="643.52" y="512.40" font-size="3.4" fill="#222" text-anchor="middle">10<tspan font-size="2.4" dy="-1.2">2</tspan></text>
<line x1="663.46" y1="506.60" x2="663.46" y2="505.40" stroke="#333" stroke-width="0.4" />
<text x="663.46" y="512.40" font-size="3.4" fill="#222" text-anchor="middle">10<tspan font-size="2.4" dy="-1.2">3</tspan></text>
<line x1="683.40" y1="506.60" x2="683.40" y2="505.40" stroke="#333" stroke-width="0.4" />
<text x="683.40" y="512.40" font-size="3.4" fill="#222" text-anchor="middle">10<tspan font-size="2.4" dy="-1.2">4</tspan></text>
<text x="634.00" y="517.10" font-size="3.6" fill="#222" text-anchor="middle">T<tspan font-size="2.4" dy="0.8">2</tspan><tspan dy="-0.8">[ms]</tspan></text>
<text transform="translate(567.20,465) rotate(-90)" font-size="3.6" fill="#222" text-anchor="middle">Intensity [a.u.]</text>
<path d="M583.7 502.5 L614.5 502.5 L615 428 L615.9 428 L616.3 502.5 L622.8 502.5 L623.3 476 L624.2 476 L624.6 502.5 L642.4 502.5 L642.8 497 L643.4 497 L643.7 502.5 L654.6 502.5 L655 500.5 L655.4 502.5 L670 502.5 L670.4 500 L670.8 502.5 L683.4 502.5" fill="none" stroke="#2a7ad0" stroke-width="0.8" stroke-linejoin="round"/>
<path d="M395.40 558.60 h4.6 v-2.4 l4.6 4.2 l-4.6 4.2 v-2.4 h-4.6z" fill="#1a78c8"/>
<text x="408.20" y="565.06" font-size="12.4" fill="#111" font-weight="bold" stroke="#111" stroke-width="0.05" textLength="249.00" lengthAdjust="spacing">图表调节能力强大灵活,结果展现形式丰富多样</text>
<rect x="414.50" y="572.40" width="137.70" height="102.10" fill="#fff" stroke="#dcdcdc" stroke-width="0.8" stroke-dasharray="1.2 0.6"/>
<rect x="414.00" y="674.50" width="138.70" height="13.50" fill="#0068b7"/>
<text x="483.35" y="685.51" font-size="9.2" fill="#fff" text-anchor="middle" textLength="34.00" lengthAdjust="spacingAndGlyphs">曲线拟合</text>
<rect x="560.90" y="572.40" width="137.30" height="102.10" fill="#fff" stroke="#dcdcdc" stroke-width="0.8" stroke-dasharray="1.2 0.6"/>
<rect x="560.40" y="674.50" width="138.30" height="13.50" fill="#0068b7"/>
<text x="629.55" y="685.51" font-size="9.2" fill="#fff" text-anchor="middle" textLength="34.00" lengthAdjust="spacingAndGlyphs">高分辨率</text>
<line x1="446.40" y1="587.30" x2="446.40" y2="622.20" stroke="#8a8a8a" stroke-width="0.45" />
<line x1="454.80" y1="587.30" x2="454.80" y2="622.20" stroke="#8a8a8a" stroke-width="0.45" />
<line x1="463.20" y1="587.30" x2="463.20" y2="622.20" stroke="#8a8a8a" stroke-width="0.45" />
<line x1="471.60" y1="587.30" x2="471.60" y2="622.20" stroke="#8a8a8a" stroke-width="0.45" />
<line x1="480.00" y1="587.30" x2="480.00" y2="622.20" stroke="#8a8a8a" stroke-width="0.45" />
<line x1="488.40" y1="587.30" x2="488.40" y2="622.20" stroke="#8a8a8a" stroke-width="0.45" />
<line x1="496.80" y1="587.30" x2="496.80" y2="622.20" stroke="#8a8a8a" stroke-width="0.45" />
<line x1="505.20" y1="587.30" x2="505.20" y2="622.20" stroke="#8a8a8a" stroke-width="0.45" />
<line x1="446.40" y1="587.30" x2="505.20" y2="587.30" stroke="#8a8a8a" stroke-width="0.45" />
<line x1="446.40" y1="592.29" x2="505.20" y2="592.29" stroke="#8a8a8a" stroke-width="0.45" />
<line x1="446.40" y1="597.27" x2="505.20" y2="597.27" stroke="#8a8a8a" stroke-width="0.45" />
<line x1="446.40" y1="602.26" x2="505.20" y2="602.26" stroke="#8a8a8a" stroke-width="0.45" />
<line x1="446.40" y1="607.24" x2="505.20" y2="607.24" stroke="#8a8a8a" stroke-width="0.45" />
<line x1="446.40" y1="612.23" x2="505.20" y2="612.23" stroke="#8a8a8a" stroke-width="0.45" />
<line x1="446.40" y1="617.21" x2="505.20" y2="617.21" stroke="#8a8a8a" stroke-width="0.45" />
<line x1="446.40" y1="622.20" x2="505.20" y2="622.20" stroke="#8a8a8a" stroke-width="0.45" />
<line x1="505.20" y1="587.30" x2="505.20" y2="622.20" stroke="#8a8a8a" stroke-width="0.45" />
<line x1="510.22" y1="586.20" x2="509.42" y2="626.18" stroke="#8a8a8a" stroke-width="0.45" />
<line x1="515.23" y1="585.10" x2="513.63" y2="630.17" stroke="#8a8a8a" stroke-width="0.45" />
<line x1="520.25" y1="584.00" x2="517.85" y2="634.15" stroke="#8a8a8a" stroke-width="0.45" />
<line x1="525.27" y1="582.90" x2="522.07" y2="638.13" stroke="#8a8a8a" stroke-width="0.45" />
<line x1="530.28" y1="581.80" x2="526.28" y2="642.12" stroke="#8a8a8a" stroke-width="0.45" />
<line x1="535.30" y1="580.70" x2="530.50" y2="646.10" stroke="#8a8a8a" stroke-width="0.45" />
<line x1="505.20" y1="587.30" x2="535.30" y2="580.70" stroke="#8a8a8a" stroke-width="0.45" />
<line x1="505.20" y1="592.29" x2="534.61" y2="590.04" stroke="#8a8a8a" stroke-width="0.45" />
<line x1="505.20" y1="597.27" x2="533.93" y2="599.39" stroke="#8a8a8a" stroke-width="0.45" />
<line x1="505.20" y1="602.26" x2="533.24" y2="608.73" stroke="#8a8a8a" stroke-width="0.45" />
<line x1="505.20" y1="607.24" x2="532.56" y2="618.07" stroke="#8a8a8a" stroke-width="0.45" />
<line x1="505.20" y1="612.23" x2="531.87" y2="627.41" stroke="#8a8a8a" stroke-width="0.45" />
<line x1="505.20" y1="617.21" x2="531.19" y2="636.76" stroke="#8a8a8a" stroke-width="0.45" />
<line x1="505.20" y1="622.20" x2="530.50" y2="646.10" stroke="#8a8a8a" stroke-width="0.45" />
<line x1="446.40" y1="622.20" x2="505.20" y2="622.20" stroke="#8a8a8a" stroke-width="0.45" />
<line x1="442.18" y1="626.98" x2="510.26" y2="626.98" stroke="#8a8a8a" stroke-width="0.45" />
<line x1="437.96" y1="631.76" x2="515.32" y2="631.76" stroke="#8a8a8a" stroke-width="0.45" />
<line x1="433.74" y1="636.54" x2="520.38" y2="636.54" stroke="#8a8a8a" stroke-width="0.45" />
<line x1="429.52" y1="641.32" x2="525.44" y2="641.32" stroke="#8a8a8a" stroke-width="0.45" />
<line x1="425.30" y1="646.10" x2="530.50" y2="646.10" stroke="#8a8a8a" stroke-width="0.45" />
<line x1="446.40" y1="622.20" x2="425.30" y2="646.10" stroke="#8a8a8a" stroke-width="0.45" />
<line x1="453.75" y1="622.20" x2="438.45" y2="646.10" stroke="#8a8a8a" stroke-width="0.45" />
<line x1="461.10" y1="622.20" x2="451.60" y2="646.10" stroke="#8a8a8a" stroke-width="0.45" />
<line x1="468.45" y1="622.20" x2="464.75" y2="646.10" stroke="#8a8a8a" stroke-width="0.45" />
<line x1="475.80" y1="622.20" x2="477.90" y2="646.10" stroke="#8a8a8a" stroke-width="0.45" />
<line x1="483.15" y1="622.20" x2="491.05" y2="646.10" stroke="#8a8a8a" stroke-width="0.45" />
<line x1="490.50" y1="622.20" x2="504.20" y2="646.10" stroke="#8a8a8a" stroke-width="0.45" />
<line x1="497.85" y1="622.20" x2="517.35" y2="646.10" stroke="#8a8a8a" stroke-width="0.45" />
<line x1="505.20" y1="622.20" x2="530.50" y2="646.10" stroke="#8a8a8a" stroke-width="0.45" />
<line x1="425.30" y1="646.10" x2="530.50" y2="646.10" stroke="#333" stroke-width="0.9" />
<line x1="530.50" y1="646.10" x2="535.30" y2="580.70" stroke="#333" stroke-width="0.7" />
<line x1="425.30" y1="646.00" x2="447.80" y2="623.00" stroke="#5a8ae0" stroke-width="0.7" />
<line x1="431.40" y1="646.00" x2="451.20" y2="623.00" stroke="#e05050" stroke-width="0.7" />
<line x1="436.20" y1="646.00" x2="453.30" y2="623.00" stroke="#50c060" stroke-width="0.7" />
<line x1="442.30" y1="646.00" x2="456.00" y2="623.00" stroke="#9a70d8" stroke-width="0.7" />
<line x1="447.80" y1="646.00" x2="460.10" y2="623.00" stroke="#e0a050" stroke-width="0.7" />
<line x1="453.30" y1="646.00" x2="462.20" y2="623.00" stroke="#9a70d8" stroke-width="0.7" />
<line x1="458.80" y1="642.00" x2="464.90" y2="623.00" stroke="#50c060" stroke-width="0.7" />
<line x1="464.20" y1="644.00" x2="469.00" y2="623.00" stroke="#4a6ad0" stroke-width="0.7" />
<line x1="469.00" y1="643.00" x2="471.00" y2="623.00" stroke="#e0a050" stroke-width="0.7" />
<line x1="480.60" y1="642.00" x2="478.00" y2="623.00" stroke="#50c060" stroke-width="0.7" />
<path d="M483 623 L486 640 L490 623" fill="none" stroke="#9a70d8" stroke-width="0.7"/>
<path d="M488 623 C489 630 490 638 490.6 638 C491.5 638 492 627 494 625 L498 624" fill="none" stroke="#555" stroke-width="0.7"/>
<path d="M494 624 C497 628 499 635 501 634 C503 633 504 625 506 606" fill="none" stroke="#e0a050" stroke-width="0.7"/>
<path d="M500 631 C505 631 507 625 510 595" fill="none" stroke="#60a8e8" stroke-width="0.7"/>
<path d="M503 630 C509 631 512 620 516 587" fill="none" stroke="#e0a050" stroke-width="0.7"/>
<path d="M507 631 C514 632 518 615 523 582" fill="none" stroke="#9a70d8" stroke-width="0.7"/>
<path d="M510 630 C518 631 522 610 528 581" fill="none" stroke="#e0a050" stroke-width="0.7"/>
<path d="M513 632 C523 633 528 610 534.5 581" fill="none" stroke="#9a70d8" stroke-width="0.7"/>
<text x="537.50" y="589.80" font-size="3.6" fill="#999">700</text>
<text x="537.50" y="598.30" font-size="3.6" fill="#999">600</text>
<text x="537.50" y="606.80" font-size="3.6" fill="#999">500</text>
<text x="537.50" y="615.30" font-size="3.6" fill="#999">400</text>
<text x="537.50" y="624.30" font-size="3.6" fill="#999">300</text>
<text x="537.50" y="632.30" font-size="3.6" fill="#999">200</text>
<text x="537.50" y="640.80" font-size="3.6" fill="#999">100</text>
<text x="537.50" y="647.80" font-size="3.6" fill="#999">0</text>
<text transform="translate(543.5,613) rotate(90)" font-size="3.6" fill="#aaa" text-anchor="middle">Amplitude[a.u.]</text>
<text transform="translate(425.3,648.5) rotate(90)" font-size="3.4" fill="#aaa">0.005</text>
<text transform="translate(436.5,648.5) rotate(90)" font-size="3.4" fill="#aaa">0.1</text>
<text transform="translate(450.5,648.5) rotate(90)" font-size="3.4" fill="#aaa">1</text>
<text transform="translate(463.0,648.5) rotate(90)" font-size="3.4" fill="#aaa">5</text>
<text transform="translate(476.5,648.5) rotate(90)" font-size="3.4" fill="#aaa">50</text>
<text transform="translate(489.0,648.5) rotate(90)" font-size="3.4" fill="#aaa">5</text>
<text transform="translate(501.5,648.5) rotate(90)" font-size="3.4" fill="#aaa">500</text>
<text transform="translate(513.5,648.5) rotate(90)" font-size="3.4" fill="#aaa">1000</text>
<text transform="translate(526.0,648.5) rotate(90)" font-size="3.4" fill="#aaa">5000</text>
<text x="464.00" y="664.90" font-size="3.6" fill="#aaa" textLength="16.00" lengthAdjust="spacingAndGlyphs">tau1[ms]</text>
<text x="437.00" y="623.80" font-size="3.6" fill="#999">1800</text>
<text x="430.00" y="630.80" font-size="3.6" fill="#999">1000</text>
<text x="419.00" y="642.60" font-size="3.6" fill="#999">200</text>
<text transform="translate(418.5,636) rotate(-50)" font-size="3.4" fill="#aaa">tau2[m]</text>
<line x1="585.20" y1="642.40" x2="581.40" y2="587.80" stroke="#999" stroke-width="0.4" />
<line x1="658.00" y1="641.80" x2="662.30" y2="587.80" stroke="#999" stroke-width="0.4" />
<path d="M581.4 587.8 L619 591 L662.3 587.8" fill="none" stroke="#bbb" stroke-width="0.4" stroke-dasharray="0.8 0.8"/>
<polygon points="585.20,642.40 618.90,633.80 658.00,641.80 624.20,662.70" fill="#050838"/>
<linearGradient id="pk" x1="0" y1="0" x2="0" y2="1"><stop offset="0" stop-color="#d03030"/><stop offset="0.3" stop-color="#e09050"/><stop offset="0.55" stop-color="#30c0d8"/><stop offset="0.8" stop-color="#1050e0"/><stop offset="1" stop-color="#1030a0"/></linearGradient>
<path d="M615.5 642 L616.5 630 L617.2 620 L618 610 L618.8 600 L619.6 591 L620.6 593 L621.4 603 L622 612 L623 622 L624 632 L625.5 642 C622 645 619 645 615.5 642 Z" fill="url(#pk)"/>
<path d="M617 640 L618.5 632 L619.5 640 Z M621.5 641 L622.8 634 L623.6 641 Z" fill="#0a40c0"/>
<text x="664.00" y="602.31" font-size="4.2" fill="#999">20.00</text>
<text x="664.00" y="613.01" font-size="4.2" fill="#999">15.00</text>
<text x="664.00" y="623.91" font-size="4.2" fill="#999">10.00</text>
<text x="664.00" y="633.81" font-size="4.2" fill="#999">5.00</text>
<text transform="translate(680,616) rotate(90)" font-size="3.6" fill="#aaa" text-anchor="middle">Value</text>
<polygon points="836.30,0.00 1024.00,0.00 1024.00,111.30" fill="#0068b6"/>
<path d="M739.50 64.60 h4 v-2.3 l4.2 3.9 l-4.2 3.9 v-2.3 h-4z" fill="#fff"/>
<text x="752.70" y="70.80" font-size="12.5" fill="#fff" font-weight="bold" stroke="#fff" stroke-width="0.05" textLength="187.30" lengthAdjust="spacing">全新处理模块,跨领域数据处理能力</text>
<rect x="760.90" y="84.60" width="5.10" height="5.00" fill="#fff"/>
<text x="771.60" y="91.16" font-size="11" fill="#fff" textLength="64.70" lengthAdjust="spacing">交联密度分布</text>
<rect x="760.90" y="102.70" width="5.10" height="5.00" fill="#fff"/>
<text x="771.60" y="109.26" font-size="11" fill="#fff" textLength="108.40" lengthAdjust="spacing">恒定梯度分层数据处理</text>
<rect x="760.90" y="120.70" width="5.10" height="5.00" fill="#fff"/>
<text x="771.60" y="127.26" font-size="11" fill="#fff" textLength="108.40" lengthAdjust="spacing">相位编码分层数据处理</text>
<rect x="760.90" y="138.20" width="5.10" height="5.00" fill="#fff"/>
<text x="771.60" y="144.76" font-size="11" fill="#fff" textLength="118.80" lengthAdjust="spacing">二维数据新开放功能处理</text>
<text x="758" y="244.3" font-size="25" font-weight="bold" fill="#fff" textLength="160.5" lengthAdjust="spacingAndGlyphs">APPLICATION</text>
<text x="758.50" y="281.08" font-size="23" fill="#fff" font-weight="bold" stroke="#fff" stroke-width="0.45" textLength="98.00" lengthAdjust="spacing">应用范围</text>
<rect x="746.60" y="326.00" width="5.20" height="5.20" fill="#fff"/>
<text x="760.40" y="334.04" font-size="14" fill="#fff" font-weight="bold" textLength="64.00" lengthAdjust="spacing">应用领域:</text>
<text x="760.40" y="357.96" font-size="11" fill="#fff" textLength="227.00" lengthAdjust="spacing">能源岩土、食品农业、生命科学、材料、教学等领域</text>
<rect x="746.60" y="387.60" width="5.20" height="5.20" fill="#fff"/>
<text x="760.40" y="395.64" font-size="14" fill="#fff" font-weight="bold" textLength="166.00" lengthAdjust="spacing">各类应用方案的数据处理:</text>
<text x="760.40" y="420.06" font-size="11" fill="#fff" textLength="168.70" lengthAdjust="spacing">适用范围:纽迈核磁共振仪采集数据</text>
<text x="760.40" y="439.46" font-size="11" fill="#fff" textLength="120.80" lengthAdjust="spacing">一维: pea、irp、srp、Fid 等</text>
<text x="760.40" y="457.06" font-size="11" fill="#fff" textLength="141.50" lengthAdjust="spacing">二维: dcp、ircp、srcp、cpcp 等</text>
<linearGradient id="scr" x1="0" y1="0" x2="1" y2="1">
 <stop offset="0" stop-color="#f020e8"/><stop offset="0.14" stop-color="#c024e0"/><stop offset="0.3" stop-color="#6a2ac8"/><stop offset="0.6" stop-color="#4424a8"/><stop offset="1" stop-color="#2c1680"/></linearGradient>
<linearGradient id="paper" x1="0" y1="0" x2="0.4" y2="1">
 <stop offset="0" stop-color="#9ab6f0"/><stop offset="0.5" stop-color="#a08ae8"/><stop offset="1" stop-color="#a060e0"/></linearGradient>
<radialGradient id="glow" cx="0.5" cy="0.5" r="0.5"><stop offset="0" stop-color="#7a50e8" stop-opacity="0.5"/><stop offset="1" stop-color="#7a50e8" stop-opacity="0"/></radialGradient>
<ellipse cx="900" cy="600" rx="120" ry="95" fill="url(#glow)"/>
<g fill="#7a5ae8" opacity="0.55">
<rect x="794.00" y="509.00" width="4.00" height="14.00" fill="#4a50d8"/>
<polygon points="813.00,524.00 818.00,527.00 813.00,530.00" fill="#6a48d8"/>
<polygon points="820.00,527.50 825.00,530.50 820.00,533.50" fill="#6a48d8"/>
<polygon points="827.00,531.00 832.00,534.00 827.00,537.00" fill="#6a48d8"/>
<polygon points="834.00,534.50 839.00,537.50 834.00,540.50" fill="#6a48d8"/>
</g>
<g opacity="0.5" stroke="#9a7af0" stroke-width="1" fill="none"><circle cx="821" cy="555" r="3"/><circle cx="818" cy="589" r="2.5"/><line x1="816" y1="591" x2="812" y2="595"/></g>
<line x1="955.00" y1="520.00" x2="990.00" y2="538.00" stroke="#8a70f0" stroke-width="0.9" opacity="0.45"/>
<line x1="956.50" y1="525.00" x2="991.50" y2="543.00" stroke="#8a70f0" stroke-width="0.9" opacity="0.45"/>
<line x1="958.00" y1="530.00" x2="993.00" y2="548.00" stroke="#8a70f0" stroke-width="0.9" opacity="0.45"/>
<line x1="959.50" y1="535.00" x2="994.50" y2="553.00" stroke="#8a70f0" stroke-width="0.9" opacity="0.45"/>
<line x1="961.00" y1="540.00" x2="996.00" y2="558.00" stroke="#8a70f0" stroke-width="0.9" opacity="0.45"/>
<line x1="962.50" y1="545.00" x2="997.50" y2="563.00" stroke="#8a70f0" stroke-width="0.9" opacity="0.45"/>
<line x1="964.00" y1="550.00" x2="999.00" y2="568.00" stroke="#8a70f0" stroke-width="0.9" opacity="0.45"/>
<line x1="965.50" y1="555.00" x2="1000.50" y2="573.00" stroke="#8a70f0" stroke-width="0.9" opacity="0.45"/>
<text transform="translate(985,669) rotate(22)" font-size="9" font-weight="bold" fill="#8a6ae0" opacity="0.8">SRCP</text>
<polygon points="794.60,617.20 905.80,680.00 970.90,637.40 970.90,643.00 905.80,686.50 794.60,623.00" fill="#22105a"/>
<line x1="800.00" y1="624.00" x2="905.00" y2="684.00" stroke="#8a60e8" stroke-width="0.8" opacity="0.7"/>
<polygon points="794.60,617.20 859.70,574.60 970.90,637.40 905.80,680.00" fill="#341782"/>
<polygon points="800.00,617.50 860.00,579.00 965.00,637.50 906.00,675.50" fill="#3c1a92"/>
<polygon points="818.00,622.00 838.00,611.00 884.00,636.00 864.00,647.00" fill="#4a22aa"/>
<polygon points="834.00,603.00 875.00,577.00 952.00,634.00 912.00,655.00" fill="#28116c"/>
<rect x="836.0" y="603.0" width="3.8" height="2.2" rx="0.8" fill="#5e3cb8" transform="skewY(30)" transform-origin="836.0 603.0"/>
<rect x="842.7" y="607.4" width="3.8" height="2.2" rx="0.8" fill="#5e3cb8" transform="skewY(30)" transform-origin="842.7 607.4"/>
<rect x="849.5" y="611.7" width="3.8" height="2.2" rx="0.8" fill="#5e3cb8" transform="skewY(30)" transform-origin="849.5 611.7"/>
<rect x="856.2" y="616.1" width="3.8" height="2.2" rx="0.8" fill="#5e3cb8" transform="skewY(30)" transform-origin="856.2 616.1"/>
<rect x="862.9" y="620.5" width="3.8" height="2.2" rx="0.8" fill="#5e3cb8" transform="skewY(30)" transform-origin="862.9 620.5"/>
<rect x="869.6" y="624.8" width="3.8" height="2.2" rx="0.8" fill="#5e3cb8" transform="skewY(30)" transform-origin="869.6 624.8"/>
<rect x="876.4" y="629.2" width="3.8" height="2.2" rx="0.8" fill="#5e3cb8" transform="skewY(30)" transform-origin="876.4 629.2"/>
<rect x="883.1" y="633.5" width="3.8" height="2.2" rx="0.8" fill="#5e3cb8" transform="skewY(30)" transform-origin="883.1 633.5"/>
<rect x="889.8" y="637.9" width="3.8" height="2.2" rx="0.8" fill="#5e3cb8" transform="skewY(30)" transform-origin="889.8 637.9"/>
<rect x="896.5" y="642.3" width="3.8" height="2.2" rx="0.8" fill="#5e3cb8" transform="skewY(30)" transform-origin="896.5 642.3"/>
<rect x="903.3" y="646.6" width="3.8" height="2.2" rx="0.8" fill="#5e3cb8" transform="skewY(30)" transform-origin="903.3 646.6"/>
<rect x="910.0" y="651.0" width="3.8" height="2.2" rx="0.8" fill="#5e3cb8" transform="skewY(30)" transform-origin="910.0 651.0"/>
<rect x="842.8" y="598.6" width="3.8" height="2.2" rx="0.8" fill="#5e3cb8" transform="skewY(30)" transform-origin="842.8 598.6"/>
<rect x="849.5" y="603.0" width="3.8" height="2.2" rx="0.8" fill="#5e3cb8" transform="skewY(30)" transform-origin="849.5 603.0"/>
<rect x="856.3" y="607.3" width="3.8" height="2.2" rx="0.8" fill="#5e3cb8" transform="skewY(30)" transform-origin="856.3 607.3"/>
<rect x="863.0" y="611.7" width="3.8" height="2.2" rx="0.8" fill="#5e3cb8" transform="skewY(30)" transform-origin="863.0 611.7"/>
<rect x="869.7" y="616.1" width="3.8" height="2.2" rx="0.8" fill="#5e3cb8" transform="skewY(30)" transform-origin="869.7 616.1"/>
<rect x="876.4" y="620.4" width="3.8" height="2.2" rx="0.8" fill="#5e3cb8" transform="skewY(30)" transform-origin="876.4 620.4"/>
<rect x="883.2" y="624.8" width="3.8" height="2.2" rx="0.8" fill="#5e3cb8" transform="skewY(30)" transform-origin="883.2 624.8"/>
<rect x="889.9" y="629.1" width="3.8" height="2.2" rx="0.8" fill="#5e3cb8" transform="skewY(30)" transform-origin="889.9 629.1"/>
<rect x="896.6" y="633.5" width="3.8" height="2.2" rx="0.8" fill="#5e3cb8" transform="skewY(30)" transform-origin="896.6 633.5"/>
<rect x="903.3" y="637.9" width="3.8" height="2.2" rx="0.8" fill="#5e3cb8" transform="skewY(30)" transform-origin="903.3 637.9"/>
<rect x="910.1" y="642.2" width="3.8" height="2.2" rx="0.8" fill="#5e3cb8" transform="skewY(30)" transform-origin="910.1 642.2"/>
<rect x="916.8" y="646.6" width="3.8" height="2.2" rx="0.8" fill="#5e3cb8" transform="skewY(30)" transform-origin="916.8 646.6"/>
<rect x="849.6" y="594.2" width="3.8" height="2.2" rx="0.8" fill="#5e3cb8" transform="skewY(30)" transform-origin="849.6 594.2"/>
<rect x="856.3" y="598.6" width="3.8" height="2.2" rx="0.8" fill="#5e3cb8" transform="skewY(30)" transform-origin="856.3 598.6"/>
<rect x="863.1" y="602.9" width="3.8" height="2.2" rx="0.8" fill="#5e3cb8" transform="skewY(30)" transform-origin="863.1 602.9"/>
<rect x="869.8" y="607.3" width="3.8" height="2.2" rx="0.8" fill="#5e3cb8" transform="skewY(30)" transform-origin="869.8 607.3"/>
<rect x="876.5" y="611.7" width="3.8" height="2.2" rx="0.8" fill="#5e3cb8" transform="skewY(30)" transform-origin="876.5 611.7"/>
<rect x="883.2" y="616.0" width="3.8" height="2.2" rx="0.8" fill="#5e3cb8" transform="skewY(30)" transform-origin="883.2 616.0"/>
<rect x="890.0" y="620.4" width="3.8" height="2.2" rx="0.8" fill="#5e3cb8" transform="skewY(30)" transform-origin="890.0 620.4"/>
<rect x="896.7" y="624.7" width="3.8" height="2.2" rx="0.8" fill="#5e3cb8" transform="skewY(30)" transform-origin="896.7 624.7"/>
<rect x="903.4" y="629.1" width="3.8" height="2.2" rx="0.8" fill="#5e3cb8" transform="skewY(30)" transform-origin="903.4 629.1"/>
<rect x="910.1" y="633.5" width="3.8" height="2.2" rx="0.8" fill="#5e3cb8" transform="skewY(30)" transform-origin="910.1 633.5"/>
<rect x="916.9" y="637.8" width="3.8" height="2.2" rx="0.8" fill="#5e3cb8" transform="skewY(30)" transform-origin="916.9 637.8"/>
<rect x="923.6" y="642.2" width="3.8" height="2.2" rx="0.8" fill="#5e3cb8" transform="skewY(30)" transform-origin="923.6 642.2"/>
<rect x="856.4" y="589.8" width="3.8" height="2.2" rx="0.8" fill="#5e3cb8" transform="skewY(30)" transform-origin="856.4 589.8"/>
<rect x="863.1" y="594.2" width="3.8" height="2.2" rx="0.8" fill="#5e3cb8" transform="skewY(30)" transform-origin="863.1 594.2"/>
<rect x="869.9" y="598.5" width="3.8" height="2.2" rx="0.8" fill="#5e3cb8" transform="skewY(30)" transform-origin="869.9 598.5"/>
<rect x="876.6" y="602.9" width="3.8" height="2.2" rx="0.8" fill="#5e3cb8" transform="skewY(30)" transform-origin="876.6 602.9"/>
<rect x="883.3" y="607.3" width="3.8" height="2.2" rx="0.8" fill="#5e3cb8" transform="skewY(30)" transform-origin="883.3 607.3"/>
<rect x="890.0" y="611.6" width="3.8" height="2.2" rx="0.8" fill="#5e3cb8" transform="skewY(30)" transform-origin="890.0 611.6"/>
<rect x="896.8" y="616.0" width="3.8" height="2.2" rx="0.8" fill="#5e3cb8" transform="skewY(30)" transform-origin="896.8 616.0"/>
<rect x="903.5" y="620.3" width="3.8" height="2.2" rx="0.8" fill="#5e3cb8" transform="skewY(30)" transform-origin="903.5 620.3"/>
<rect x="910.2" y="624.7" width="3.8" height="2.2" rx="0.8" fill="#5e3cb8" transform="skewY(30)" transform-origin="910.2 624.7"/>
<rect x="916.9" y="629.1" width="3.8" height="2.2" rx="0.8" fill="#5e3cb8" transform="skewY(30)" transform-origin="916.9 629.1"/>
<rect x="923.7" y="633.4" width="3.8" height="2.2" rx="0.8" fill="#5e3cb8" transform="skewY(30)" transform-origin="923.7 633.4"/>
<rect x="930.4" y="637.8" width="3.8" height="2.2" rx="0.8" fill="#5e3cb8" transform="skewY(30)" transform-origin="930.4 637.8"/>
<rect x="863.2" y="585.4" width="3.8" height="2.2" rx="0.8" fill="#5e3cb8" transform="skewY(30)" transform-origin="863.2 585.4"/>
<rect x="869.9" y="589.8" width="3.8" height="2.2" rx="0.8" fill="#5e3cb8" transform="skewY(30)" transform-origin="869.9 589.8"/>
<rect x="876.7" y="594.1" width="3.8" height="2.2" rx="0.8" fill="#5e3cb8" transform="skewY(30)" transform-origin="876.7 594.1"/>
<rect x="883.4" y="598.5" width="3.8" height="2.2" rx="0.8" fill="#5e3cb8" transform="skewY(30)" transform-origin="883.4 598.5"/>
<rect x="890.1" y="602.9" width="3.8" height="2.2" rx="0.8" fill="#5e3cb8" transform="skewY(30)" transform-origin="890.1 602.9"/>
<rect x="896.8" y="607.2" width="3.8" height="2.2" rx="0.8" fill="#5e3cb8" transform="skewY(30)" transform-origin="896.8 607.2"/>
<rect x="903.6" y="611.6" width="3.8" height="2.2" rx="0.8" fill="#5e3cb8" transform="skewY(30)" transform-origin="903.6 611.6"/>
<rect x="910.3" y="615.9" width="3.8" height="2.2" rx="0.8" fill="#5e3cb8" transform="skewY(30)" transform-origin="910.3 615.9"/>
<rect x="917.0" y="620.3" width="3.8" height="2.2" rx="0.8" fill="#5e3cb8" transform="skewY(30)" transform-origin="917.0 620.3"/>
<rect x="923.7" y="624.7" width="3.8" height="2.2" rx="0.8" fill="#5e3cb8" transform="skewY(30)" transform-origin="923.7 624.7"/>
<rect x="930.5" y="629.0" width="3.8" height="2.2" rx="0.8" fill="#5e3cb8" transform="skewY(30)" transform-origin="930.5 629.0"/>
<rect x="937.2" y="633.4" width="3.8" height="2.2" rx="0.8" fill="#5e3cb8" transform="skewY(30)" transform-origin="937.2 633.4"/>
<rect x="870.0" y="581.0" width="3.8" height="2.2" rx="0.8" fill="#5e3cb8" transform="skewY(30)" transform-origin="870.0 581.0"/>
<rect x="876.7" y="585.4" width="3.8" height="2.2" rx="0.8" fill="#5e3cb8" transform="skewY(30)" transform-origin="876.7 585.4"/>
<rect x="883.5" y="589.7" width="3.8" height="2.2" rx="0.8" fill="#5e3cb8" transform="skewY(30)" transform-origin="883.5 589.7"/>
<rect x="890.2" y="594.1" width="3.8" height="2.2" rx="0.8" fill="#5e3cb8" transform="skewY(30)" transform-origin="890.2 594.1"/>
<rect x="896.9" y="598.5" width="3.8" height="2.2" rx="0.8" fill="#5e3cb8" transform="skewY(30)" transform-origin="896.9 598.5"/>
<rect x="903.6" y="602.8" width="3.8" height="2.2" rx="0.8" fill="#5e3cb8" transform="skewY(30)" transform-origin="903.6 602.8"/>
<rect x="910.4" y="607.2" width="3.8" height="2.2" rx="0.8" fill="#5e3cb8" transform="skewY(30)" transform-origin="910.4 607.2"/>
<rect x="917.1" y="611.5" width="3.8" height="2.2" rx="0.8" fill="#5e3cb8" transform="skewY(30)" transform-origin="917.1 611.5"/>
<rect x="923.8" y="615.9" width="3.8" height="2.2" rx="0.8" fill="#5e3cb8" transform="skewY(30)" transform-origin="923.8 615.9"/>
<rect x="930.5" y="620.3" width="3.8" height="2.2" rx="0.8" fill="#5e3cb8" transform="skewY(30)" transform-origin="930.5 620.3"/>
<rect x="937.3" y="624.6" width="3.8" height="2.2" rx="0.8" fill="#5e3cb8" transform="skewY(30)" transform-origin="937.3 624.6"/>
<rect x="944.0" y="629.0" width="3.8" height="2.2" rx="0.8" fill="#5e3cb8" transform="skewY(30)" transform-origin="944.0 629.0"/>
<polygon points="866.00,486.00 974.00,545.00 971.00,636.00 861.00,575.00" fill="#1c0c48"/>
<polygon points="869.00,492.00 970.00,548.00 967.00,630.00 864.00,573.00" fill="url(#scr)"/>
<polygon points="889.00,523.00 901.00,515.00 911.00,529.00 899.00,537.00" fill="#f2c080"/>
<text transform="translate(895,530) rotate(30)" font-size="6" fill="#fff" font-weight="bold">{/}</text>
<polygon points="911.00,549.00 934.00,560.00 934.00,574.00 911.00,563.00" fill="#5a78d8" opacity="0.85"/>
<polygon points="885.00,557.00 905.00,567.00 905.00,575.00 885.00,565.00" fill="#5a78d8" opacity="0.8"/>
<path d="M902 545 L902 556 M891 548 L905 556 L930 556 L930 560" fill="none" stroke="#a090e8" stroke-width="0.6"/>
<rect x="886" y="495" width="30" height="10" rx="5" fill="#3ab4dc" transform="rotate(32 901 500)"/>
<text x="930" y="535" font-size="5" fill="#7a60e0" opacity="0.8">10</text>
<text x="942" y="542" font-size="5" fill="#7a60e0" opacity="0.8">10</text>
<text x="954" y="549" font-size="5" fill="#7a60e0" opacity="0.8">10</text>
<text x="936" y="552" font-size="5" fill="#7a60e0" opacity="0.8">10</text>
<text x="948" y="560" font-size="5" fill="#7a60e0" opacity="0.8">10</text>
<text x="958" y="566" font-size="5" fill="#7a60e0" opacity="0.8">10</text>
<text transform="translate(945,581) rotate(25)" font-size="8" fill="#8a70e0" opacity="0.8" font-weight="bold">SRP</text>
<g transform="translate(953.5,607) rotate(32.5)">
<rect x="-56" y="-13.5" width="112" height="27" rx="13.5" fill="#22b0c8"/>
<rect x="-54" y="-11.5" width="108" height="23" rx="11.5" fill="#28a4c4"/>
<circle cx="-28" cy="0" r="8" fill="#3a64c8"/><circle cx="-1" cy="0" r="9" fill="#3a64c8"/><circle cx="25" cy="0" r="8" fill="#3a64c8"/>
<text x="-34" y="4" font-size="11" font-weight="bold" fill="#fff" transform="rotate(-32.5 -28 0)">C#</text>
<text x="21" y="4" font-size="11" font-weight="bold" fill="#fff" transform="rotate(-32.5 25 0)">R</text>
<path d="M-46 -4 L-40 0 L-46 4z" fill="#f0c080"/><path d="M40 -4 L46 0 L40 4z" fill="#f0f0ff"/>
</g>
<polygon points="829.40,508.00 870.00,519.00 875.00,600.00 830.00,586.00" fill="#5a8ae0" opacity="0.55"/>
<polygon points="835.70,517.80 875.20,529.50 881.50,609.50 836.60,590.60" fill="url(#paper)" opacity="0.85"/>
<line x1="840.00" y1="530.00" x2="855.00" y2="533.00" stroke="#f0d080" stroke-width="0.8" opacity="0.8"/>
<line x1="840.00" y1="536.50" x2="860.00" y2="539.50" stroke="#e8d8ff" stroke-width="0.8" opacity="0.8"/>
<line x1="840.00" y1="543.00" x2="865.00" y2="546.00" stroke="#e8d8ff" stroke-width="0.8" opacity="0.8"/>
<line x1="840.00" y1="549.50" x2="855.00" y2="552.50" stroke="#e8d8ff" stroke-width="0.8" opacity="0.8"/>
<line x1="840.00" y1="556.00" x2="860.00" y2="559.00" stroke="#f0d080" stroke-width="0.8" opacity="0.8"/>
<line x1="840.00" y1="562.50" x2="865.00" y2="565.50" stroke="#e8d8ff" stroke-width="0.8" opacity="0.8"/>
<line x1="840.00" y1="569.00" x2="855.00" y2="572.00" stroke="#e8d8ff" stroke-width="0.8" opacity="0.8"/>
<line x1="840.00" y1="575.50" x2="860.00" y2="578.50" stroke="#e8d8ff" stroke-width="0.8" opacity="0.8"/>
<line x1="840.00" y1="582.00" x2="865.00" y2="585.00" stroke="#f0d080" stroke-width="0.8" opacity="0.8"/>
<text transform="translate(845,605) rotate(28)" font-size="8" fill="#7a5ae0" opacity="0.9">CPCP</text>
<text transform="translate(957,632) rotate(25)" font-size="6.5" font-weight="bold" fill="#fff">NMR</text>
</svg>
</body></html>
